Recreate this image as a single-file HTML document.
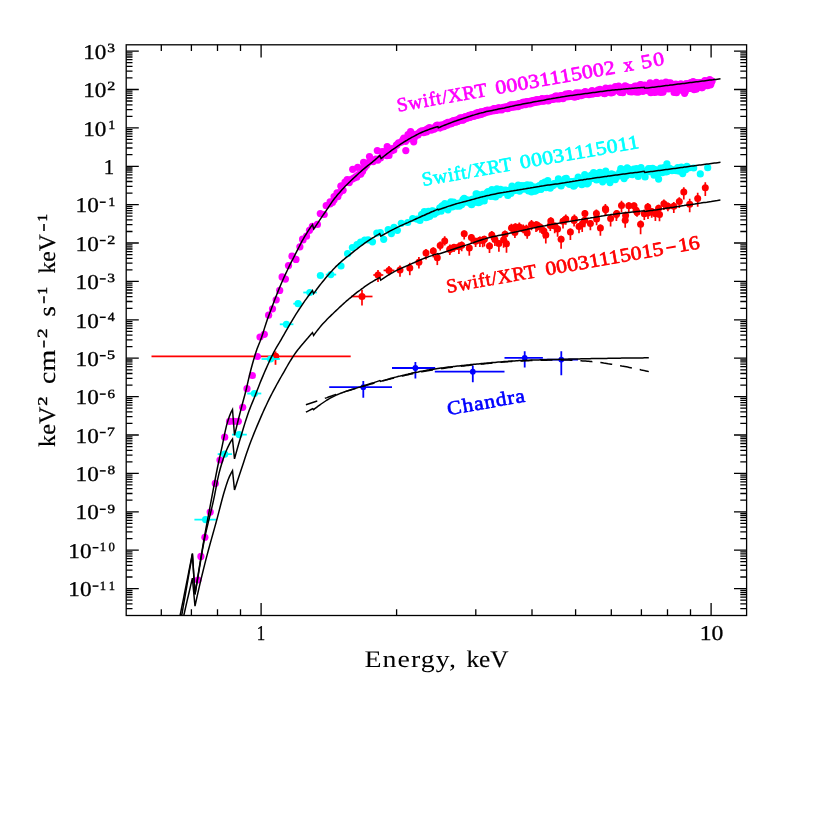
<!DOCTYPE html>
<html><head><meta charset="utf-8"><title>X-ray spectra</title>
<style>html,body{margin:0;padding:0;background:#fff}body{width:814px;height:814px;overflow:hidden;font-family:"Liberation Serif",serif}svg{display:block;will-change:transform}</style>
</head><body>
<svg width="814" height="814" viewBox="0 0 814 814" text-rendering="geometricPrecision">
<rect width="814" height="814" fill="#fff"/>
<defs><clipPath id="cp"><rect x="126.2" y="44.8" width="620.4" height="570.7"/></clipPath></defs>
<g clip-path="url(#cp)">
<g fill="#ff0000" stroke="#ff0000" stroke-width="1.7"><path d="M151.5 356.4H350.7" stroke-width="1.8"/><path d="M275.5 351.4V364.8" stroke-width="1.8"/><circle cx="275.7" cy="356.2" r="3.55" stroke="none"/><path d="M362.0 289.8V305.6"/><path d="M351.0 296.5H372.5"/><path d="M378.0 270.0V282.0"/><path d="M373.3 275.0H383.3"/><path d="M389.0 266.0V275.3"/><path d="M383.6 270.4H394.4"/><path d="M400.0 265.5V276.8"/><path d="M409.8 262.8V275.2"/><path d="M418.9 257.0V268.4"/><path d="M426.0 249.1V259.5"/><path d="M433.3 247.3V257.4"/><path d="M440.2 241.5V250.4"/><path d="M444.7 236.3V245.4"/><path d="M450.0 244.6V253.8"/><path d="M454.0 244.0V252.0"/><path d="M458.9 242.4V253.9"/><path d="M464.2 230.6V239.5"/><path d="M469.3 244.1V255.7"/><path d="M475.6 237.8V247.0"/><path d="M479.9 236.5V247.0"/><path d="M484.4 235.7V246.4"/><path d="M489.5 242.3V253.0"/><path d="M494.9 235.2V246.0"/><path d="M498.9 240.2V251.7"/><path d="M503.6 236.5V247.7"/><path d="M506.5 239.4V252.7"/><path d="M511.4 223.8V233.3"/><path d="M515.4 223.2V232.4"/><path d="M519.3 222.4V231.5"/><path d="M523.2 224.4V233.3"/><path d="M527.2 229.4V238.8"/><path d="M531.5 220.0V230.3"/><path d="M536.0 221.2V231.9"/><path d="M540.0 223.4V232.7"/><path d="M543.9 226.8V238.6"/><path d="M545.8 230.5V243.4"/><path d="M550.8 217.3V226.3"/><path d="M554.7 222.6V233.2"/><path d="M557.6 224.7V236.8"/><path d="M561.1 235.7V248.8"/><path d="M565.8 214.5V224.8"/><path d="M570.4 228.5V240.1"/><path d="M574.4 214.5V224.0"/><path d="M579.0 222.9V233.2"/><path d="M582.2 219.7V231.9"/><path d="M584.9 210.0V218.1"/><path d="M590.4 220.0V230.2"/><path d="M596.4 209.4V218.1"/><path d="M600.4 224.4V235.8"/><path d="M605.4 204.0V215.2"/><path d="M610.6 215.0V226.4"/><path d="M616.7 210.0V218.8"/><path d="M621.5 200.8V212.2"/><path d="M625.2 215.9V227.7"/><path d="M628.8 202.3V211.9"/><path d="M634.0 202.4V210.6"/><path d="M637.0 208.4V216.7"/><path d="M640.6 220.5V234.2"/><path d="M644.3 209.4V220.1"/><path d="M648.0 208.8V219.1"/><path d="M651.7 208.1V217.8"/><path d="M655.4 209.9V221.1"/><path d="M659.5 209.8V221.3"/><path d="M663.9 199.6V210.1"/><path d="M667.9 202.4V211.2"/><path d="M673.8 201.9V213.1"/><path d="M679.3 197.2V207.9"/><path d="M437.3 253.2V265.1"/><path d="M449.8 245.2V255.0"/><path d="M461.7 241.5V251.2"/><path d="M471.4 234.1V242.9"/><path d="M482.7 236.2V247.3"/><path d="M491.8 230.9V240.0"/><path d="M505.0 230.4V239.9"/><path d="M514.9 228.2V238.0"/><path d="M526.4 224.7V235.9"/><path d="M537.1 221.7V231.3"/><path d="M550.3 221.0V231.0"/><path d="M563.0 217.3V228.4"/><path d="M574.1 217.3V226.4"/><path d="M584.7 216.9V227.3"/><path d="M596.6 214.3V225.3"/><path d="M605.7 206.4V215.7"/><path d="M616.4 210.4V221.0"/><path d="M625.6 211.5V222.3"/><path d="M636.1 205.7V216.0"/><path d="M647.8 203.1V214.0"/><path d="M658.6 204.8V214.5"/><path d="M683.8 187.3V199.4"/><path d="M689.7 198.8V212.3"/><path d="M697.7 192.8V206.8"/><path d="M705.3 182.2V196.0"/></g><g fill="#ff0000"><circle cx="362.0" cy="296.5" r="3.5"/><circle cx="378.0" cy="275.0" r="3.5"/><circle cx="389.0" cy="270.4" r="3.5"/><circle cx="400.0" cy="270.0" r="3.5"/><circle cx="409.8" cy="268.0" r="3.5"/><circle cx="418.9" cy="262.3" r="3.5"/><circle cx="426.0" cy="253.0" r="3.5"/><circle cx="433.3" cy="251.1" r="3.5"/><circle cx="440.2" cy="245.6" r="3.5"/><circle cx="444.7" cy="240.9" r="3.5"/><circle cx="450.0" cy="249.1" r="3.5"/><circle cx="454.0" cy="247.2" r="3.5"/><circle cx="458.9" cy="246.8" r="3.5"/><circle cx="464.2" cy="233.8" r="3.5"/><circle cx="469.3" cy="248.1" r="3.5"/><circle cx="475.6" cy="241.3" r="3.5"/><circle cx="479.9" cy="240.3" r="3.5"/><circle cx="484.4" cy="239.3" r="3.5"/><circle cx="489.5" cy="246.0" r="3.5"/><circle cx="494.9" cy="239.5" r="3.5"/><circle cx="498.9" cy="243.6" r="3.5"/><circle cx="503.6" cy="239.8" r="3.5"/><circle cx="506.5" cy="243.7" r="3.5"/><circle cx="511.4" cy="228.0" r="3.5"/><circle cx="515.4" cy="227.0" r="3.5"/><circle cx="519.3" cy="227.0" r="3.5"/><circle cx="523.2" cy="229.0" r="3.5"/><circle cx="527.2" cy="232.9" r="3.5"/><circle cx="531.5" cy="224.6" r="3.5"/><circle cx="536.0" cy="225.0" r="3.5"/><circle cx="540.0" cy="227.0" r="3.5"/><circle cx="543.9" cy="230.9" r="3.5"/><circle cx="545.8" cy="234.9" r="3.5"/><circle cx="550.8" cy="221.1" r="3.5"/><circle cx="554.7" cy="226.0" r="3.5"/><circle cx="557.6" cy="229.0" r="3.5"/><circle cx="561.1" cy="239.2" r="3.5"/><circle cx="565.8" cy="218.9" r="3.5"/><circle cx="570.4" cy="231.9" r="3.5"/><circle cx="574.4" cy="219.1" r="3.5"/><circle cx="579.0" cy="226.4" r="3.5"/><circle cx="582.2" cy="224.0" r="3.5"/><circle cx="584.9" cy="213.4" r="3.5"/><circle cx="590.4" cy="223.6" r="3.5"/><circle cx="596.4" cy="213.4" r="3.5"/><circle cx="600.4" cy="228.1" r="3.5"/><circle cx="605.4" cy="208.8" r="3.5"/><circle cx="610.6" cy="218.4" r="3.5"/><circle cx="616.7" cy="213.4" r="3.5"/><circle cx="621.5" cy="205.6" r="3.5"/><circle cx="625.2" cy="220.3" r="3.5"/><circle cx="628.8" cy="205.8" r="3.5"/><circle cx="634.0" cy="205.8" r="3.5"/><circle cx="637.0" cy="212.2" r="3.5"/><circle cx="640.6" cy="224.3" r="3.5"/><circle cx="644.3" cy="213.7" r="3.5"/><circle cx="648.0" cy="213.0" r="3.5"/><circle cx="651.7" cy="211.5" r="3.5"/><circle cx="655.4" cy="213.7" r="3.5"/><circle cx="659.5" cy="214.5" r="3.5"/><circle cx="663.9" cy="203.7" r="3.5"/><circle cx="667.9" cy="206.3" r="3.5"/><circle cx="673.8" cy="206.3" r="3.5"/><circle cx="679.3" cy="201.6" r="3.5"/><circle cx="437.3" cy="257.8" r="3.5"/><circle cx="449.8" cy="249.4" r="3.5"/><circle cx="461.7" cy="245.2" r="3.5"/><circle cx="471.4" cy="237.5" r="3.5"/><circle cx="482.7" cy="240.6" r="3.5"/><circle cx="491.8" cy="235.1" r="3.5"/><circle cx="505.0" cy="234.3" r="3.5"/><circle cx="514.9" cy="232.4" r="3.5"/><circle cx="526.4" cy="229.0" r="3.5"/><circle cx="537.1" cy="225.1" r="3.5"/><circle cx="550.3" cy="225.5" r="3.5"/><circle cx="563.0" cy="221.2" r="3.5"/><circle cx="574.1" cy="220.5" r="3.5"/><circle cx="584.7" cy="220.3" r="3.5"/><circle cx="596.6" cy="219.0" r="3.5"/><circle cx="605.7" cy="209.8" r="3.5"/><circle cx="616.4" cy="214.5" r="3.5"/><circle cx="625.6" cy="215.5" r="3.5"/><circle cx="636.1" cy="210.2" r="3.5"/><circle cx="647.8" cy="206.9" r="3.5"/><circle cx="658.6" cy="208.3" r="3.5"/><circle cx="683.8" cy="192.0" r="3.5"/><circle cx="689.7" cy="204.2" r="3.5"/><circle cx="697.7" cy="198.4" r="3.5"/><circle cx="705.3" cy="187.8" r="3.5"/></g>
<g fill="#00ffff" stroke="#00ffff" stroke-width="1.8"><path d="M194.4 519.6H216.1"/><path d="M217.7 454.2H232.0"/><path d="M232.0 434.6H246.8"/><path d="M247.2 393.5H261.3"/><path d="M261.5 359.0H279.9"/><path d="M279.8 324.3H293.4"/><path d="M293.3 303.7H302.7"/><path d="M303.3 292.5H316.9"/><path d="M325.8 274.6H336.2"/></g><g fill="#00ffff"><circle cx="205.6" cy="519.6" r="3.6"/><circle cx="224.7" cy="454.2" r="3.6"/><circle cx="239.1" cy="434.6" r="3.6"/><circle cx="254.4" cy="393.5" r="3.6"/><circle cx="270.6" cy="359.0" r="3.6"/><circle cx="286.4" cy="324.3" r="3.6"/><circle cx="298.1" cy="303.7" r="3.6"/><circle cx="309.8" cy="292.5" r="3.6"/><circle cx="330.8" cy="274.6" r="3.6"/><circle cx="320.4" cy="275.5" r="3.6"/><circle cx="341.0" cy="266.0" r="3.6"/><circle cx="347.6" cy="253.7" r="3.6"/><circle cx="352.4" cy="247.6" r="3.6"/><circle cx="357.0" cy="244.6" r="3.6"/><circle cx="360.6" cy="242.1" r="3.6"/><circle cx="364.7" cy="240.0" r="3.6"/><circle cx="368.1" cy="239.9" r="3.6"/><circle cx="372.5" cy="241.8" r="3.6"/><circle cx="376.8" cy="233.1" r="3.6"/><circle cx="380.3" cy="232.5" r="3.6"/><circle cx="383.7" cy="239.3" r="3.6"/><circle cx="388.2" cy="229.7" r="3.6"/><circle cx="391.4" cy="233.6" r="3.6"/><circle cx="394.0" cy="227.4" r="3.6"/><circle cx="397.4" cy="230.3" r="3.6"/><circle cx="401.3" cy="223.3" r="3.6"/><circle cx="407.7" cy="222.5" r="3.6"/><circle cx="412.7" cy="218.5" r="3.6"/><circle cx="417.0" cy="219.2" r="3.6"/><circle cx="420.0" cy="220.4" r="3.6"/><circle cx="421.5" cy="214.7" r="3.6"/><circle cx="423.1" cy="214.4" r="3.6"/><circle cx="424.3" cy="211.5" r="3.6"/><circle cx="425.9" cy="217.6" r="3.6"/><circle cx="427.4" cy="217.2" r="3.6"/><circle cx="428.4" cy="211.3" r="3.6"/><circle cx="429.8" cy="216.3" r="3.6"/><circle cx="431.6" cy="211.1" r="3.6"/><circle cx="432.8" cy="210.9" r="3.6"/><circle cx="434.2" cy="214.2" r="3.6"/><circle cx="435.3" cy="212.7" r="3.6"/><circle cx="436.9" cy="212.2" r="3.6"/><circle cx="438.5" cy="210.7" r="3.6"/><circle cx="439.8" cy="207.8" r="3.6"/><circle cx="441.1" cy="211.2" r="3.6"/><circle cx="442.1" cy="205.9" r="3.6"/><circle cx="443.7" cy="205.7" r="3.6"/><circle cx="444.8" cy="203.5" r="3.6"/><circle cx="446.2" cy="205.5" r="3.6"/><circle cx="448.0" cy="209.8" r="3.6"/><circle cx="449.8" cy="203.7" r="3.6"/><circle cx="450.9" cy="201.9" r="3.6"/><circle cx="452.3" cy="206.9" r="3.6"/><circle cx="453.6" cy="202.2" r="3.6"/><circle cx="455.0" cy="205.3" r="3.6"/><circle cx="456.5" cy="206.1" r="3.6"/><circle cx="458.2" cy="204.9" r="3.6"/><circle cx="459.3" cy="206.2" r="3.6"/><circle cx="460.5" cy="203.3" r="3.6"/><circle cx="461.8" cy="204.6" r="3.6"/><circle cx="463.0" cy="199.6" r="3.6"/><circle cx="464.2" cy="198.4" r="3.6"/><circle cx="465.9" cy="202.1" r="3.6"/><circle cx="467.1" cy="199.9" r="3.6"/><circle cx="468.9" cy="200.6" r="3.6"/><circle cx="470.1" cy="203.2" r="3.6"/><circle cx="471.6" cy="204.7" r="3.6"/><circle cx="472.7" cy="199.2" r="3.6"/><circle cx="474.4" cy="202.4" r="3.6"/><circle cx="476.1" cy="193.8" r="3.6"/><circle cx="477.3" cy="194.2" r="3.6"/><circle cx="478.5" cy="202.7" r="3.6"/><circle cx="480.0" cy="201.8" r="3.6"/><circle cx="481.2" cy="200.9" r="3.6"/><circle cx="482.6" cy="194.3" r="3.6"/><circle cx="484.2" cy="201.0" r="3.6"/><circle cx="485.3" cy="197.1" r="3.6"/><circle cx="486.8" cy="192.8" r="3.6"/><circle cx="488.1" cy="191.7" r="3.6"/><circle cx="489.3" cy="192.6" r="3.6"/><circle cx="490.7" cy="196.5" r="3.6"/><circle cx="491.9" cy="189.5" r="3.6"/><circle cx="493.2" cy="196.2" r="3.6"/><circle cx="494.3" cy="192.1" r="3.6"/><circle cx="495.5" cy="197.0" r="3.6"/><circle cx="496.9" cy="188.9" r="3.6"/><circle cx="498.0" cy="192.3" r="3.6"/><circle cx="499.4" cy="194.6" r="3.6"/><circle cx="500.5" cy="189.3" r="3.6"/><circle cx="502.1" cy="191.7" r="3.6"/><circle cx="503.3" cy="190.4" r="3.6"/><circle cx="505.1" cy="190.1" r="3.6"/><circle cx="506.5" cy="190.4" r="3.6"/><circle cx="507.8" cy="195.4" r="3.6"/><circle cx="509.6" cy="190.0" r="3.6"/><circle cx="510.8" cy="193.5" r="3.6"/><circle cx="512.0" cy="186.0" r="3.6"/><circle cx="513.7" cy="190.0" r="3.6"/><circle cx="515.3" cy="189.5" r="3.6"/><circle cx="517.0" cy="189.8" r="3.6"/><circle cx="518.2" cy="185.2" r="3.6"/><circle cx="519.6" cy="191.1" r="3.6"/><circle cx="521.3" cy="185.5" r="3.6"/><circle cx="522.8" cy="188.0" r="3.6"/><circle cx="524.2" cy="185.6" r="3.6"/><circle cx="525.5" cy="189.0" r="3.6"/><circle cx="527.2" cy="184.8" r="3.6"/><circle cx="528.6" cy="191.0" r="3.6"/><circle cx="530.4" cy="185.1" r="3.6"/><circle cx="531.5" cy="191.8" r="3.6"/><circle cx="533.3" cy="187.2" r="3.6"/><circle cx="534.3" cy="191.2" r="3.6"/><circle cx="535.6" cy="190.8" r="3.6"/><circle cx="537.1" cy="189.8" r="3.6"/><circle cx="538.2" cy="189.3" r="3.6"/><circle cx="539.4" cy="185.5" r="3.6"/><circle cx="541.1" cy="189.3" r="3.6"/><circle cx="542.2" cy="183.3" r="3.6"/><circle cx="543.6" cy="185.9" r="3.6"/><circle cx="544.9" cy="182.0" r="3.6"/><circle cx="546.1" cy="187.6" r="3.6"/><circle cx="547.8" cy="180.7" r="3.6"/><circle cx="549.2" cy="187.4" r="3.6"/><circle cx="550.3" cy="188.1" r="3.6"/><circle cx="551.4" cy="185.6" r="3.6"/><circle cx="552.8" cy="185.7" r="3.6"/><circle cx="554.0" cy="183.5" r="3.6"/><circle cx="555.5" cy="183.3" r="3.6"/><circle cx="557.0" cy="183.3" r="3.6"/><circle cx="558.4" cy="178.9" r="3.6"/><circle cx="559.9" cy="183.4" r="3.6"/><circle cx="561.1" cy="185.9" r="3.6"/><circle cx="562.7" cy="182.6" r="3.6"/><circle cx="563.8" cy="182.6" r="3.6"/><circle cx="564.9" cy="178.9" r="3.6"/><circle cx="566.3" cy="178.3" r="3.6"/><circle cx="567.6" cy="182.4" r="3.6"/><circle cx="568.7" cy="183.6" r="3.6"/><circle cx="569.7" cy="184.4" r="3.6"/><circle cx="571.3" cy="181.8" r="3.6"/><circle cx="572.4" cy="181.6" r="3.6"/><circle cx="573.7" cy="186.2" r="3.6"/><circle cx="574.8" cy="185.1" r="3.6"/><circle cx="576.6" cy="183.4" r="3.6"/><circle cx="578.2" cy="177.1" r="3.6"/><circle cx="580.0" cy="180.2" r="3.6"/><circle cx="581.8" cy="184.7" r="3.6"/><circle cx="582.9" cy="183.1" r="3.6"/><circle cx="584.7" cy="174.5" r="3.6"/><circle cx="586.0" cy="182.3" r="3.6"/><circle cx="587.1" cy="183.8" r="3.6"/><circle cx="588.3" cy="182.7" r="3.6"/><circle cx="589.4" cy="178.8" r="3.6"/><circle cx="591.2" cy="175.0" r="3.6"/><circle cx="592.4" cy="178.4" r="3.6"/><circle cx="593.6" cy="172.5" r="3.6"/><circle cx="594.8" cy="173.8" r="3.6"/><circle cx="596.5" cy="180.0" r="3.6"/><circle cx="598.2" cy="173.3" r="3.6"/><circle cx="599.9" cy="172.4" r="3.6"/><circle cx="601.3" cy="178.8" r="3.6"/><circle cx="602.6" cy="181.8" r="3.6"/><circle cx="604.0" cy="177.8" r="3.6"/><circle cx="605.7" cy="171.2" r="3.6"/><circle cx="607.5" cy="178.0" r="3.6"/><circle cx="608.8" cy="180.1" r="3.6"/><circle cx="610.0" cy="182.6" r="3.6"/><circle cx="611.5" cy="173.8" r="3.6"/><circle cx="613.1" cy="174.7" r="3.6"/><circle cx="614.3" cy="178.7" r="3.6"/><circle cx="615.3" cy="179.6" r="3.6"/><circle cx="616.5" cy="177.0" r="3.6"/><circle cx="618.3" cy="176.0" r="3.6"/><circle cx="619.8" cy="172.2" r="3.6"/><circle cx="620.8" cy="168.5" r="3.6"/><circle cx="621.9" cy="175.9" r="3.6"/><circle cx="623.3" cy="174.4" r="3.6"/><circle cx="625.0" cy="169.5" r="3.6"/><circle cx="626.2" cy="175.8" r="3.6"/><circle cx="627.2" cy="167.8" r="3.6"/><circle cx="628.5" cy="169.0" r="3.6"/><circle cx="629.8" cy="170.3" r="3.6"/><circle cx="631.2" cy="174.4" r="3.6"/><circle cx="632.4" cy="174.6" r="3.6"/><circle cx="633.8" cy="169.1" r="3.6"/><circle cx="635.5" cy="170.2" r="3.6"/><circle cx="636.6" cy="168.5" r="3.6"/><circle cx="638.2" cy="176.5" r="3.6"/><circle cx="639.8" cy="171.5" r="3.6"/><circle cx="641.0" cy="167.5" r="3.6"/><circle cx="642.5" cy="172.7" r="3.6"/><circle cx="643.8" cy="173.4" r="3.6"/><circle cx="645.1" cy="176.9" r="3.6"/><circle cx="646.7" cy="170.5" r="3.6"/><circle cx="648.5" cy="168.7" r="3.6"/><circle cx="649.9" cy="171.6" r="3.6"/><circle cx="651.1" cy="168.7" r="3.6"/><circle cx="652.7" cy="168.3" r="3.6"/><circle cx="654.1" cy="175.2" r="3.6"/><circle cx="655.2" cy="169.6" r="3.6"/><circle cx="656.7" cy="171.6" r="3.6"/><circle cx="658.2" cy="173.5" r="3.6"/><circle cx="659.4" cy="170.0" r="3.6"/><circle cx="660.6" cy="168.2" r="3.6"/><circle cx="662.3" cy="172.6" r="3.6"/><circle cx="663.9" cy="167.6" r="3.6"/><circle cx="665.6" cy="171.9" r="3.6"/><circle cx="667.0" cy="171.7" r="3.6"/><circle cx="668.3" cy="168.4" r="3.6"/><circle cx="669.4" cy="168.3" r="3.6"/><circle cx="670.4" cy="168.8" r="3.6"/><circle cx="672.0" cy="170.7" r="3.6"/><circle cx="673.7" cy="170.5" r="3.6"/><circle cx="674.9" cy="169.5" r="3.6"/><circle cx="676.3" cy="170.6" r="3.6"/><circle cx="677.7" cy="167.5" r="3.6"/><circle cx="679.2" cy="171.1" r="3.6"/><circle cx="680.4" cy="170.5" r="3.6"/><circle cx="681.4" cy="167.1" r="3.6"/><circle cx="682.6" cy="169.4" r="3.6"/><circle cx="684.3" cy="169.2" r="3.6"/><circle cx="685.6" cy="169.7" r="3.6"/><circle cx="686.9" cy="166.3" r="3.6"/><circle cx="688.6" cy="168.0" r="3.6"/><circle cx="658.6" cy="179.1" r="3.6"/><circle cx="666.9" cy="163.9" r="3.6"/><circle cx="682.7" cy="173.6" r="3.6"/><circle cx="693.7" cy="168.0" r="3.6"/><circle cx="700.3" cy="173.9" r="3.6"/><circle cx="707.7" cy="167.7" r="3.6"/><circle cx="624.1" cy="178.6" r="3.6"/></g>
<path d="M436.0 127.1 L438.0 126.6 L440.0 127.1 L442.0 126.2 L444.0 125.4 L446.0 124.6 L448.0 123.8 L450.0 123.1 L452.0 122.3 L454.0 121.6 L456.0 120.9 L458.0 120.2 L460.0 119.5 L462.0 118.8 L464.0 118.1 L466.0 117.5 L468.0 116.9 L470.0 116.2 L472.0 115.6 L474.0 115.0 L476.0 114.4 L478.0 113.8 L480.0 113.2 L482.0 112.7 L484.0 112.2 L486.0 111.7 L488.0 111.3 L490.0 110.9 L492.0 110.4 L494.0 110.0 L496.0 109.6 L498.0 109.2 L500.0 108.8 L502.0 108.4 L504.0 107.9 L506.0 107.5 L508.0 107.1 L510.0 106.7 L512.0 106.2 L514.0 105.8 L516.0 105.4 L518.0 105.0 L520.0 104.6 L522.0 104.2 L524.0 103.8 L526.0 103.4 L528.0 103.0 L530.0 102.7 L532.0 102.3 L534.0 101.9 L536.0 101.5 L538.0 101.2 L540.0 100.8 L542.0 100.4 L544.0 100.1 L546.0 99.7 L548.0 99.3 L550.0 99.0 L552.0 98.6 L554.0 98.2 L556.0 97.9 L558.0 97.5 L560.0 97.2 L562.0 96.9 L564.0 96.6 L566.0 96.2 L568.0 96.0 L570.0 95.7 L572.0 95.4 L574.0 95.1 L576.0 94.8 L578.0 94.6 L580.0 94.3 L582.0 94.0 L584.0 93.8 L586.0 93.5 L588.0 93.3 L590.0 93.0 L592.0 92.7 L594.0 92.5 L596.0 92.2 L598.0 91.9 L600.0 91.7 L602.0 91.4 L604.0 91.1 L606.0 90.9 L608.0 90.6 L610.0 90.4 L612.0 90.2 L614.0 90.0 L616.0 89.8 L618.0 89.6 L620.0 89.4 L622.0 89.2 L624.0 89.0 L626.0 88.8 L628.0 88.6 L630.0 88.5 L632.0 88.3 L634.0 88.1 L636.0 88.0 L638.0 87.8 L640.0 87.7" fill="none" stroke="#ff00ff" stroke-width="8.6" stroke-linecap="round"/>
<path d="M440.0 209.3 L442.0 208.5 L444.0 207.8 L446.0 207.1 L448.0 206.4 L450.0 205.8 L452.0 205.1 L454.0 204.5 L456.0 203.9 L458.0 203.4 L460.0 202.8 L462.0 202.3 L464.0 201.8 L466.0 201.3 L468.0 200.7 L470.0 200.2 L472.0 199.6 L474.0 199.1 L476.0 198.5 L478.0 197.9 L480.0 197.4 L482.0 196.9 L484.0 196.4 L486.0 195.9 L488.0 195.5 L490.0 195.0 L492.0 194.6 L494.0 194.2 L496.0 193.8 L498.0 193.4 L500.0 193.0 L502.0 192.6 L504.0 192.3 L506.0 191.9 L508.0 191.6 L510.0 191.3 L512.0 191.0 L514.0 190.7 L516.0 190.4 L518.0 190.0 L520.0 189.7 L522.0 189.4 L524.0 189.0 L526.0 188.7 L528.0 188.3 L530.0 188.0 L532.0 187.6 L534.0 187.3 L536.0 186.9 L538.0 186.6 L540.0 186.3 L542.0 186.0 L544.0 185.7 L546.0 185.4 L548.0 185.1 L550.0 184.8 L552.0 184.6 L554.0 184.3 L556.0 184.0 L558.0 183.7 L560.0 183.4 L562.0 183.2 L564.0 182.9 L566.0 182.5 L568.0 182.2 L570.0 181.9 L572.0 181.6 L574.0 181.3 L576.0 180.9 L578.0 180.6 L580.0 180.3 L582.0 180.0 L584.0 179.6 L586.0 179.3 L588.0 179.0 L590.0 178.7 L592.0 178.4 L594.0 178.1 L596.0 177.8 L598.0 177.5 L600.0 177.3 L602.0 177.0 L604.0 176.7 L606.0 176.4 L608.0 176.2 L610.0 175.9 L612.0 175.6 L614.0 175.4 L616.0 175.1 L618.0 174.8 L620.0 174.5 L622.0 174.3 L624.0 174.0 L626.0 173.7 L628.0 173.5 L630.0 173.2 L632.0 173.0 L634.0 172.7 L636.0 172.4 L638.0 172.2 L640.0 171.9" fill="none" stroke="#00ffff" stroke-width="7.0" stroke-linecap="round"/>
<g fill="#ff00ff"><circle cx="198.0" cy="580.0" r="3.6"/><circle cx="200.9" cy="556.4" r="3.6"/><circle cx="204.9" cy="537.3" r="3.6"/><circle cx="210.2" cy="512.1" r="3.6"/><circle cx="215.3" cy="483.4" r="3.6"/><circle cx="220.0" cy="460.0" r="3.6"/><circle cx="224.7" cy="437.2" r="3.6"/><circle cx="229.6" cy="421.3" r="3.6"/><circle cx="234.0" cy="421.3" r="3.6"/><circle cx="238.3" cy="421.3" r="3.6"/><circle cx="242.7" cy="407.3" r="3.6"/><circle cx="247.0" cy="388.7" r="3.6"/><circle cx="252.4" cy="375.5" r="3.6"/><circle cx="257.4" cy="356.5" r="3.6"/><circle cx="260.0" cy="337.0" r="3.6"/><circle cx="264.3" cy="334.3" r="3.6"/><circle cx="268.6" cy="315.2" r="3.6"/><circle cx="272.5" cy="308.8" r="3.6"/><circle cx="276.2" cy="299.8" r="3.6"/><circle cx="279.7" cy="290.4" r="3.6"/><circle cx="282.1" cy="276.9" r="3.6"/><circle cx="285.4" cy="279.1" r="3.6"/><circle cx="288.5" cy="265.6" r="3.6"/><circle cx="292.0" cy="256.2" r="3.6"/><circle cx="296.0" cy="259.4" r="3.6"/><circle cx="299.9" cy="246.8" r="3.6"/><circle cx="303.0" cy="240.0" r="3.6"/><circle cx="302.6" cy="239.1" r="3.6"/><circle cx="306.5" cy="236.2" r="3.6"/><circle cx="309.5" cy="230.3" r="3.6"/><circle cx="312.4" cy="226.3" r="3.6"/><circle cx="317.4" cy="224.4" r="3.6"/><circle cx="320.3" cy="213.6" r="3.6"/><circle cx="324.2" cy="214.5" r="3.6"/><circle cx="326.2" cy="205.7" r="3.6"/><circle cx="330.1" cy="201.8" r="3.6"/><circle cx="334.1" cy="199.8" r="3.6"/><circle cx="337.0" cy="192.9" r="3.6"/><circle cx="340.9" cy="186.0" r="3.6"/><circle cx="345.9" cy="182.1" r="3.6"/><circle cx="349.8" cy="180.1" r="3.6"/><circle cx="352.7" cy="169.3" r="3.6"/><circle cx="357.7" cy="167.4" r="3.6"/><circle cx="356.7" cy="177.2" r="3.6"/><circle cx="362.6" cy="171.3" r="3.6"/><circle cx="363.6" cy="162.4" r="3.6"/><circle cx="369.5" cy="156.5" r="3.6"/><circle cx="372.4" cy="160.5" r="3.6"/><circle cx="377.3" cy="150.6" r="3.6"/><circle cx="382.2" cy="151.6" r="3.6"/><circle cx="387.2" cy="146.7" r="3.6"/><circle cx="392.1" cy="148.7" r="3.6"/><circle cx="397.0" cy="144.7" r="3.6"/><circle cx="402.9" cy="139.8" r="3.6"/><circle cx="405.8" cy="150.6" r="3.6"/><circle cx="408.8" cy="138.8" r="3.6"/><circle cx="413.7" cy="141.8" r="3.6"/><circle cx="417.6" cy="133.9" r="3.6"/><circle cx="330.0" cy="204.0" r="3.6"/><circle cx="332.4" cy="202.4" r="3.6"/><circle cx="334.1" cy="196.7" r="3.6"/><circle cx="335.7" cy="196.3" r="3.6"/><circle cx="337.9" cy="196.6" r="3.6"/><circle cx="339.6" cy="192.7" r="3.6"/><circle cx="341.3" cy="186.2" r="3.6"/><circle cx="343.1" cy="190.3" r="3.6"/><circle cx="345.0" cy="182.2" r="3.6"/><circle cx="347.2" cy="179.7" r="3.6"/><circle cx="349.3" cy="182.6" r="3.6"/><circle cx="352.0" cy="179.2" r="3.6"/><circle cx="353.9" cy="178.2" r="3.6"/><circle cx="355.9" cy="176.6" r="3.6"/><circle cx="358.5" cy="174.6" r="3.6"/><circle cx="360.8" cy="174.1" r="3.6"/><circle cx="362.9" cy="168.6" r="3.6"/><circle cx="364.5" cy="167.7" r="3.6"/><circle cx="366.4" cy="165.4" r="3.6"/><circle cx="368.4" cy="162.6" r="3.6"/><circle cx="370.7" cy="161.1" r="3.6"/><circle cx="373.2" cy="161.6" r="3.6"/><circle cx="375.7" cy="159.1" r="3.6"/><circle cx="377.9" cy="160.1" r="3.6"/><circle cx="380.5" cy="157.9" r="3.6"/><circle cx="383.3" cy="154.5" r="3.6"/><circle cx="385.1" cy="151.5" r="3.6"/><circle cx="386.8" cy="155.7" r="3.6"/><circle cx="389.0" cy="155.5" r="3.6"/><circle cx="391.5" cy="151.0" r="3.6"/><circle cx="393.8" cy="150.0" r="3.6"/><circle cx="396.3" cy="145.4" r="3.6"/><circle cx="398.6" cy="142.9" r="3.6"/><circle cx="401.2" cy="142.2" r="3.6"/><circle cx="403.9" cy="138.2" r="3.6"/><circle cx="405.6" cy="141.3" r="3.6"/><circle cx="408.0" cy="134.7" r="3.6"/><circle cx="410.6" cy="131.7" r="3.6"/><circle cx="412.6" cy="134.0" r="3.6"/><circle cx="414.2" cy="138.2" r="3.6"/><circle cx="416.3" cy="135.3" r="3.6"/><circle cx="418.0" cy="134.9" r="3.6"/><circle cx="420.0" cy="131.8" r="3.6"/><circle cx="420.7" cy="132.4" r="3.6"/><circle cx="421.8" cy="130.8" r="3.6"/><circle cx="422.6" cy="132.2" r="3.6"/><circle cx="423.6" cy="132.7" r="3.6"/><circle cx="424.7" cy="130.3" r="3.6"/><circle cx="425.5" cy="130.3" r="3.6"/><circle cx="426.5" cy="132.0" r="3.6"/><circle cx="427.2" cy="129.0" r="3.6"/><circle cx="427.9" cy="128.9" r="3.6"/><circle cx="428.7" cy="129.8" r="3.6"/><circle cx="429.5" cy="127.5" r="3.6"/><circle cx="430.3" cy="128.5" r="3.6"/><circle cx="431.2" cy="130.2" r="3.6"/><circle cx="432.1" cy="128.4" r="3.6"/><circle cx="433.0" cy="128.6" r="3.6"/><circle cx="433.6" cy="129.2" r="3.6"/><circle cx="434.6" cy="128.8" r="3.6"/><circle cx="435.6" cy="126.8" r="3.6"/><circle cx="436.4" cy="125.6" r="3.6"/><circle cx="437.4" cy="125.2" r="3.6"/><circle cx="438.0" cy="125.6" r="3.6"/><circle cx="438.7" cy="127.1" r="3.6"/><circle cx="439.3" cy="125.7" r="3.6"/><circle cx="440.0" cy="125.8" r="3.6"/><circle cx="440.8" cy="125.2" r="3.6"/><circle cx="441.8" cy="126.7" r="3.6"/><circle cx="442.5" cy="125.2" r="3.6"/><circle cx="443.2" cy="125.3" r="3.6"/><circle cx="443.9" cy="126.6" r="3.6"/><circle cx="445.0" cy="124.9" r="3.6"/><circle cx="445.8" cy="123.3" r="3.6"/><circle cx="446.5" cy="123.9" r="3.6"/><circle cx="447.2" cy="125.2" r="3.6"/><circle cx="447.9" cy="122.3" r="3.6"/><circle cx="449.0" cy="123.6" r="3.6"/><circle cx="449.6" cy="123.4" r="3.6"/><circle cx="450.3" cy="123.1" r="3.6"/><circle cx="451.4" cy="123.7" r="3.6"/><circle cx="452.3" cy="121.4" r="3.6"/><circle cx="453.1" cy="120.9" r="3.6"/><circle cx="454.1" cy="121.7" r="3.6"/><circle cx="455.1" cy="120.7" r="3.6"/><circle cx="455.8" cy="121.9" r="3.6"/><circle cx="456.9" cy="121.7" r="3.6"/><circle cx="457.9" cy="121.2" r="3.6"/><circle cx="458.8" cy="119.0" r="3.6"/><circle cx="459.7" cy="119.1" r="3.6"/><circle cx="460.3" cy="117.9" r="3.6"/><circle cx="461.0" cy="118.4" r="3.6"/><circle cx="462.0" cy="120.2" r="3.6"/><circle cx="462.8" cy="119.9" r="3.6"/><circle cx="463.9" cy="119.6" r="3.6"/><circle cx="464.7" cy="117.1" r="3.6"/><circle cx="465.4" cy="116.8" r="3.6"/><circle cx="466.1" cy="117.8" r="3.6"/><circle cx="467.2" cy="118.2" r="3.6"/><circle cx="468.0" cy="117.3" r="3.6"/><circle cx="469.0" cy="115.3" r="3.6"/><circle cx="469.9" cy="117.5" r="3.6"/><circle cx="470.9" cy="116.7" r="3.6"/><circle cx="471.8" cy="114.7" r="3.6"/><circle cx="472.8" cy="114.9" r="3.6"/><circle cx="473.8" cy="116.5" r="3.6"/><circle cx="474.6" cy="114.5" r="3.6"/><circle cx="475.6" cy="115.2" r="3.6"/><circle cx="476.3" cy="113.1" r="3.6"/><circle cx="477.0" cy="115.3" r="3.6"/><circle cx="478.0" cy="112.7" r="3.6"/><circle cx="479.0" cy="115.0" r="3.6"/><circle cx="479.9" cy="112.8" r="3.6"/><circle cx="480.8" cy="111.9" r="3.6"/><circle cx="481.4" cy="114.3" r="3.6"/><circle cx="482.3" cy="112.7" r="3.6"/><circle cx="483.4" cy="112.1" r="3.6"/><circle cx="484.4" cy="113.1" r="3.6"/><circle cx="485.1" cy="111.1" r="3.6"/><circle cx="485.9" cy="110.9" r="3.6"/><circle cx="486.8" cy="110.8" r="3.6"/><circle cx="487.6" cy="110.2" r="3.6"/><circle cx="488.7" cy="110.7" r="3.6"/><circle cx="489.5" cy="111.2" r="3.6"/><circle cx="490.5" cy="110.5" r="3.6"/><circle cx="491.6" cy="110.5" r="3.6"/><circle cx="492.5" cy="110.4" r="3.6"/><circle cx="493.1" cy="110.0" r="3.6"/><circle cx="493.8" cy="108.5" r="3.6"/><circle cx="494.8" cy="108.8" r="3.6"/><circle cx="495.6" cy="110.4" r="3.6"/><circle cx="496.5" cy="109.0" r="3.6"/><circle cx="497.3" cy="109.5" r="3.6"/><circle cx="498.3" cy="107.8" r="3.6"/><circle cx="499.2" cy="108.1" r="3.6"/><circle cx="499.9" cy="109.7" r="3.6"/><circle cx="500.8" cy="108.8" r="3.6"/><circle cx="501.8" cy="109.8" r="3.6"/><circle cx="502.6" cy="108.6" r="3.6"/><circle cx="503.5" cy="108.1" r="3.6"/><circle cx="504.4" cy="107.7" r="3.6"/><circle cx="505.3" cy="107.6" r="3.6"/><circle cx="506.3" cy="108.1" r="3.6"/><circle cx="507.4" cy="108.7" r="3.6"/><circle cx="508.1" cy="107.3" r="3.6"/><circle cx="509.2" cy="108.0" r="3.6"/><circle cx="509.8" cy="105.4" r="3.6"/><circle cx="510.7" cy="105.1" r="3.6"/><circle cx="511.4" cy="104.9" r="3.6"/><circle cx="512.3" cy="107.2" r="3.6"/><circle cx="513.4" cy="104.8" r="3.6"/><circle cx="514.3" cy="106.3" r="3.6"/><circle cx="515.0" cy="107.0" r="3.6"/><circle cx="516.1" cy="104.4" r="3.6"/><circle cx="517.2" cy="104.8" r="3.6"/><circle cx="518.0" cy="106.7" r="3.6"/><circle cx="519.0" cy="103.6" r="3.6"/><circle cx="519.8" cy="104.7" r="3.6"/><circle cx="520.6" cy="103.4" r="3.6"/><circle cx="521.4" cy="105.1" r="3.6"/><circle cx="522.0" cy="104.4" r="3.6"/><circle cx="522.8" cy="102.3" r="3.6"/><circle cx="523.6" cy="104.3" r="3.6"/><circle cx="524.4" cy="102.2" r="3.6"/><circle cx="525.5" cy="104.6" r="3.6"/><circle cx="526.6" cy="101.9" r="3.6"/><circle cx="527.3" cy="101.5" r="3.6"/><circle cx="528.3" cy="102.1" r="3.6"/><circle cx="529.0" cy="102.6" r="3.6"/><circle cx="530.0" cy="103.8" r="3.6"/><circle cx="530.8" cy="101.2" r="3.6"/><circle cx="531.8" cy="102.6" r="3.6"/><circle cx="532.8" cy="100.6" r="3.6"/><circle cx="533.4" cy="102.7" r="3.6"/><circle cx="534.2" cy="100.3" r="3.6"/><circle cx="535.3" cy="102.2" r="3.6"/><circle cx="536.3" cy="99.9" r="3.6"/><circle cx="537.3" cy="99.7" r="3.6"/><circle cx="538.3" cy="100.9" r="3.6"/><circle cx="539.1" cy="101.2" r="3.6"/><circle cx="540.2" cy="99.9" r="3.6"/><circle cx="540.8" cy="100.7" r="3.6"/><circle cx="541.6" cy="99.0" r="3.6"/><circle cx="542.2" cy="98.7" r="3.6"/><circle cx="542.9" cy="99.5" r="3.6"/><circle cx="543.7" cy="101.1" r="3.6"/><circle cx="544.4" cy="100.0" r="3.6"/><circle cx="545.1" cy="99.3" r="3.6"/><circle cx="545.7" cy="98.8" r="3.6"/><circle cx="546.3" cy="100.5" r="3.6"/><circle cx="547.2" cy="98.3" r="3.6"/><circle cx="548.1" cy="101.0" r="3.6"/><circle cx="548.7" cy="100.4" r="3.6"/><circle cx="549.5" cy="99.0" r="3.6"/><circle cx="550.5" cy="98.4" r="3.6"/><circle cx="551.4" cy="99.4" r="3.6"/><circle cx="552.5" cy="97.9" r="3.6"/><circle cx="553.5" cy="99.1" r="3.6"/><circle cx="554.4" cy="97.8" r="3.6"/><circle cx="555.2" cy="96.3" r="3.6"/><circle cx="555.9" cy="96.2" r="3.6"/><circle cx="556.8" cy="96.8" r="3.6"/><circle cx="557.5" cy="96.0" r="3.6"/><circle cx="558.5" cy="98.9" r="3.6"/><circle cx="559.5" cy="96.4" r="3.6"/><circle cx="560.2" cy="96.3" r="3.6"/><circle cx="561.0" cy="95.6" r="3.6"/><circle cx="561.8" cy="95.9" r="3.6"/><circle cx="562.9" cy="98.7" r="3.6"/><circle cx="563.8" cy="95.5" r="3.6"/><circle cx="564.9" cy="95.6" r="3.6"/><circle cx="565.7" cy="94.2" r="3.6"/><circle cx="566.5" cy="96.1" r="3.6"/><circle cx="567.3" cy="94.8" r="3.6"/><circle cx="568.2" cy="93.8" r="3.6"/><circle cx="568.9" cy="94.1" r="3.6"/><circle cx="569.7" cy="93.7" r="3.6"/><circle cx="570.3" cy="94.8" r="3.6"/><circle cx="571.0" cy="95.9" r="3.6"/><circle cx="571.9" cy="96.5" r="3.6"/><circle cx="572.8" cy="96.2" r="3.6"/><circle cx="573.8" cy="94.6" r="3.6"/><circle cx="574.6" cy="97.2" r="3.6"/><circle cx="575.3" cy="95.9" r="3.6"/><circle cx="576.2" cy="92.8" r="3.6"/><circle cx="577.2" cy="96.4" r="3.6"/><circle cx="578.1" cy="95.6" r="3.6"/><circle cx="579.1" cy="92.8" r="3.6"/><circle cx="580.0" cy="94.3" r="3.6"/><circle cx="581.0" cy="95.6" r="3.6"/><circle cx="582.0" cy="94.4" r="3.6"/><circle cx="583.1" cy="94.8" r="3.6"/><circle cx="584.0" cy="92.5" r="3.6"/><circle cx="584.6" cy="92.0" r="3.6"/><circle cx="585.4" cy="91.7" r="3.6"/><circle cx="586.4" cy="93.7" r="3.6"/><circle cx="587.4" cy="94.0" r="3.6"/><circle cx="588.3" cy="93.2" r="3.6"/><circle cx="588.9" cy="94.6" r="3.6"/><circle cx="589.9" cy="93.0" r="3.6"/><circle cx="590.7" cy="93.7" r="3.6"/><circle cx="591.4" cy="94.0" r="3.6"/><circle cx="592.1" cy="90.6" r="3.6"/><circle cx="592.8" cy="93.8" r="3.6"/><circle cx="593.5" cy="93.7" r="3.6"/><circle cx="594.6" cy="92.4" r="3.6"/><circle cx="595.4" cy="92.2" r="3.6"/><circle cx="596.4" cy="93.5" r="3.6"/><circle cx="597.3" cy="92.8" r="3.6"/><circle cx="597.9" cy="90.1" r="3.6"/><circle cx="598.6" cy="93.1" r="3.6"/><circle cx="599.4" cy="92.1" r="3.6"/><circle cx="600.0" cy="89.4" r="3.6"/><circle cx="600.7" cy="92.5" r="3.6"/><circle cx="601.7" cy="92.4" r="3.6"/><circle cx="602.4" cy="91.4" r="3.6"/><circle cx="603.2" cy="91.1" r="3.6"/><circle cx="603.9" cy="93.3" r="3.6"/><circle cx="604.6" cy="93.7" r="3.6"/><circle cx="605.7" cy="88.2" r="3.6"/><circle cx="606.5" cy="92.7" r="3.6"/><circle cx="607.6" cy="90.4" r="3.6"/><circle cx="608.3" cy="88.9" r="3.6"/><circle cx="609.4" cy="88.8" r="3.6"/><circle cx="610.3" cy="88.2" r="3.6"/><circle cx="611.1" cy="93.0" r="3.6"/><circle cx="611.8" cy="92.2" r="3.6"/><circle cx="612.7" cy="92.5" r="3.6"/><circle cx="613.6" cy="88.3" r="3.6"/><circle cx="614.7" cy="89.8" r="3.6"/><circle cx="615.3" cy="86.7" r="3.6"/><circle cx="616.1" cy="89.4" r="3.6"/><circle cx="616.9" cy="87.3" r="3.6"/><circle cx="617.7" cy="88.4" r="3.6"/><circle cx="618.7" cy="86.2" r="3.6"/><circle cx="619.6" cy="91.7" r="3.6"/><circle cx="620.3" cy="92.3" r="3.6"/><circle cx="621.3" cy="92.1" r="3.6"/><circle cx="622.0" cy="88.3" r="3.6"/><circle cx="622.8" cy="92.7" r="3.6"/><circle cx="623.7" cy="88.0" r="3.6"/><circle cx="624.5" cy="87.3" r="3.6"/><circle cx="625.1" cy="85.9" r="3.6"/><circle cx="626.2" cy="87.2" r="3.6"/><circle cx="627.2" cy="86.8" r="3.6"/><circle cx="628.0" cy="88.7" r="3.6"/><circle cx="628.6" cy="87.6" r="3.6"/><circle cx="629.7" cy="91.6" r="3.6"/><circle cx="630.7" cy="89.5" r="3.6"/><circle cx="631.8" cy="92.0" r="3.6"/><circle cx="632.7" cy="90.1" r="3.6"/><circle cx="633.3" cy="90.2" r="3.6"/><circle cx="634.1" cy="90.3" r="3.6"/><circle cx="635.0" cy="86.2" r="3.6"/><circle cx="635.7" cy="91.8" r="3.6"/><circle cx="636.3" cy="87.7" r="3.6"/><circle cx="637.1" cy="86.1" r="3.6"/><circle cx="638.1" cy="92.2" r="3.6"/><circle cx="638.8" cy="89.2" r="3.6"/><circle cx="639.5" cy="88.3" r="3.6"/><circle cx="640.3" cy="84.5" r="3.6"/><circle cx="641.0" cy="84.8" r="3.6"/><circle cx="642.1" cy="87.5" r="3.6"/><circle cx="642.8" cy="91.5" r="3.6"/><circle cx="643.9" cy="86.9" r="3.6"/><circle cx="644.6" cy="85.2" r="3.6"/><circle cx="645.2" cy="86.6" r="3.6"/><circle cx="645.8" cy="85.5" r="3.6"/><circle cx="646.6" cy="88.8" r="3.6"/><circle cx="647.6" cy="90.6" r="3.6"/><circle cx="648.4" cy="86.9" r="3.6"/><circle cx="649.3" cy="86.4" r="3.6"/><circle cx="650.1" cy="82.9" r="3.6"/><circle cx="650.8" cy="92.7" r="3.6"/><circle cx="651.5" cy="87.6" r="3.6"/><circle cx="652.4" cy="91.5" r="3.6"/><circle cx="653.1" cy="85.1" r="3.6"/><circle cx="653.8" cy="86.5" r="3.6"/><circle cx="654.6" cy="92.5" r="3.6"/><circle cx="655.7" cy="91.6" r="3.6"/><circle cx="656.3" cy="82.4" r="3.6"/><circle cx="657.2" cy="91.8" r="3.6"/><circle cx="658.1" cy="88.4" r="3.6"/><circle cx="658.7" cy="86.2" r="3.6"/><circle cx="659.7" cy="90.9" r="3.6"/><circle cx="660.7" cy="92.5" r="3.6"/><circle cx="661.5" cy="83.1" r="3.6"/><circle cx="662.1" cy="87.6" r="3.6"/><circle cx="663.1" cy="92.1" r="3.6"/><circle cx="664.1" cy="88.9" r="3.6"/><circle cx="665.0" cy="86.8" r="3.6"/><circle cx="665.9" cy="82.2" r="3.6"/><circle cx="666.9" cy="84.3" r="3.6"/><circle cx="668.0" cy="88.8" r="3.6"/><circle cx="668.7" cy="83.1" r="3.6"/><circle cx="669.4" cy="88.7" r="3.6"/><circle cx="670.4" cy="82.9" r="3.6"/><circle cx="671.0" cy="87.4" r="3.6"/><circle cx="671.9" cy="85.9" r="3.6"/><circle cx="672.6" cy="88.3" r="3.6"/><circle cx="673.2" cy="84.9" r="3.6"/><circle cx="674.1" cy="92.5" r="3.6"/><circle cx="675.0" cy="91.7" r="3.6"/><circle cx="675.8" cy="84.1" r="3.6"/><circle cx="676.5" cy="92.7" r="3.6"/><circle cx="677.5" cy="84.9" r="3.6"/><circle cx="678.1" cy="87.2" r="3.6"/><circle cx="679.0" cy="86.2" r="3.6"/><circle cx="679.8" cy="89.3" r="3.6"/><circle cx="680.8" cy="83.8" r="3.6"/><circle cx="681.5" cy="85.2" r="3.6"/><circle cx="682.3" cy="89.5" r="3.6"/><circle cx="683.0" cy="91.0" r="3.6"/><circle cx="683.9" cy="87.3" r="3.6"/><circle cx="684.6" cy="93.3" r="3.6"/><circle cx="685.4" cy="91.3" r="3.6"/><circle cx="686.1" cy="83.6" r="3.6"/><circle cx="687.1" cy="84.4" r="3.6"/><circle cx="688.2" cy="86.7" r="3.6"/><circle cx="688.9" cy="83.5" r="3.6"/><circle cx="689.7" cy="88.4" r="3.6"/><circle cx="690.7" cy="82.5" r="3.6"/><circle cx="691.5" cy="83.2" r="3.6"/><circle cx="692.6" cy="82.4" r="3.6"/><circle cx="693.2" cy="81.6" r="3.6"/><circle cx="694.0" cy="89.6" r="3.6"/><circle cx="695.1" cy="87.8" r="3.6"/><circle cx="696.2" cy="89.2" r="3.6"/><circle cx="696.9" cy="82.7" r="3.6"/><circle cx="698.0" cy="87.1" r="3.6"/><circle cx="698.6" cy="86.4" r="3.6"/><circle cx="699.4" cy="84.0" r="3.6"/><circle cx="700.2" cy="82.5" r="3.6"/><circle cx="700.8" cy="83.1" r="3.6"/><circle cx="701.6" cy="87.7" r="3.6"/><circle cx="702.2" cy="87.6" r="3.6"/><circle cx="702.9" cy="83.2" r="3.6"/><circle cx="703.9" cy="86.1" r="3.6"/><circle cx="704.8" cy="80.7" r="3.6"/><circle cx="705.6" cy="82.7" r="3.6"/><circle cx="706.7" cy="81.2" r="3.6"/><circle cx="707.4" cy="85.7" r="3.6"/><circle cx="708.1" cy="82.4" r="3.6"/><circle cx="709.1" cy="84.4" r="3.6"/><circle cx="709.7" cy="79.6" r="3.6"/><circle cx="710.3" cy="85.0" r="3.6"/><circle cx="711.0" cy="83.7" r="3.6"/><circle cx="712.1" cy="81.0" r="3.6"/></g>
<g fill="#0000ff" stroke="#0000ff" stroke-width="1.8"><path d="M329.2 387.2H392.0M363.3 380.9V397.7"/><circle cx="363.3" cy="387.2" r="2.9" stroke="none"/><path d="M392.0 368.0H435.2M415.4 362.0V378.6"/><circle cx="415.4" cy="368.0" r="2.9" stroke="none"/><path d="M434.8 371.7H504.5M472.8 365.5V382.3"/><circle cx="472.8" cy="371.7" r="2.9" stroke="none"/><path d="M504.5 357.8H542.9M524.7 351.3V367.6"/><circle cx="524.7" cy="357.8" r="2.9" stroke="none"/><path d="M542.9 359.6H578.0M561.3 351.3V375.3"/><circle cx="561.3" cy="359.6" r="2.9" stroke="none"/></g>
<g fill="none" stroke="#000" stroke-width="1.5" stroke-linejoin="miter" stroke-linecap="butt">
<path d="M180.1 615.5 L181.6 607.9 L183.2 600.2 L184.7 592.5 L186.2 584.8 L187.8 577.0 L189.3 569.1 L190.9 561.2 L192.4 553.3 L195.0 594.5 L196.5 584.9 L198.0 575.5 L199.5 566.2 L201.0 557.1 L202.5 548.1 L204.0 539.4 L205.5 531.0 L207.0 522.9 L208.5 514.8 L210.0 506.9 L211.5 498.9 L213.0 490.9 L214.5 482.9 L216.0 475.0 L217.5 467.5 L219.0 460.4 L220.5 453.6 L222.0 446.8 L223.5 439.7 L225.0 432.2 L226.5 425.6 L228.0 420.6 L229.5 416.1 L231.0 412.3 L232.5 409.5 L234.5 435.3 L236.0 429.1 L237.5 423.0 L239.0 417.0 L240.5 411.1 L242.0 405.3 L243.5 399.8 L245.0 394.2 L246.5 388.2 L248.0 381.7 L249.5 375.2 L251.0 369.3 L252.5 363.8 L254.0 358.5 L255.5 353.6 L257.0 349.1 L258.5 345.2 L260.0 341.6 L261.5 337.5 L263.0 332.9 L264.5 328.1 L266.0 323.5 L267.5 319.1 L269.0 314.9 L270.5 310.9 L272.0 306.9 L273.5 303.0 L275.0 299.1 L276.5 295.2 L278.0 291.4 L279.5 287.7 L281.0 284.2 L282.5 280.7 L284.0 277.4 L285.5 274.1 L287.0 271.0 L288.5 267.8 L290.0 264.7 L291.5 261.7 L293.0 258.8 L294.5 255.8 L296.0 252.9 L297.5 249.9 L299.0 247.0 L300.5 244.1 L302.0 241.2 L303.5 238.6 L305.0 236.0 L306.5 233.6 L308.0 231.2 L309.5 228.9 L311.0 226.7 L312.5 224.6 L313.7 229.0 L315.2 226.8 L316.7 224.6 L318.2 222.3 L319.7 220.1 L321.2 217.9 L322.7 215.7 L324.2 213.5 L325.7 211.3 L327.2 209.1 L328.7 206.8 L330.2 204.6 L331.7 202.4 L333.2 200.3 L334.7 198.3 L336.2 196.5 L337.7 194.6 L339.2 192.9 L340.7 191.2 L342.2 189.5 L343.7 187.9 L345.2 186.3 L346.8 184.7 L348.3 183.2 L349.8 181.8 L351.3 180.3 L352.8 178.9 L354.3 177.5 L355.8 176.1 L357.3 174.7 L358.8 173.3 L360.3 172.0 L361.8 170.6 L363.3 169.3 L364.8 168.1 L366.3 166.9 L367.8 165.7 L369.3 164.5 L370.8 163.3 L372.3 162.1 L373.8 160.8 L375.3 159.6 L376.8 158.3 L378.3 156.9 L379.8 155.6 L381.1 158.5 L382.6 157.3 L384.2 156.0 L385.7 154.8 L387.2 153.7 L388.8 152.5 L390.3 151.4 L391.8 150.2 L393.4 149.1 L394.9 148.1 L396.4 147.0 L398.0 146.0 L399.5 144.9 L401.0 143.9 L402.6 142.9 L404.1 141.9 L405.6 141.0 L407.2 140.1 L408.7 139.2 L410.2 138.3 L411.7 137.4 L413.3 136.6 L414.8 135.8 L416.3 135.0 L417.9 134.2 L419.4 133.4 L420.9 132.7 L422.5 132.0 L424.0 131.4 L425.5 130.8 L427.1 130.2 L428.6 129.6 L430.1 129.0 L431.7 128.5 L433.2 128.0 L434.7 127.5 L436.3 127.0 L437.8 126.6 L438.3 127.8 L439.8 127.2 L441.3 126.5 L442.8 125.9 L444.3 125.3 L445.8 124.7 L447.3 124.1 L448.8 123.5 L450.3 123.0 L451.8 122.4 L453.3 121.8 L454.8 121.3 L456.3 120.8 L457.8 120.2 L459.3 119.7 L460.8 119.2 L462.3 118.7 L463.8 118.2 L465.4 117.7 L466.9 117.2 L468.4 116.7 L469.9 116.3 L471.4 115.8 L472.9 115.3 L474.4 114.9 L475.9 114.4 L477.4 114.0 L478.9 113.5 L480.4 113.1 L481.9 112.7 L483.4 112.4 L484.9 112.0 L486.4 111.6 L487.9 111.3 L489.4 111.0 L490.9 110.7 L492.4 110.4 L493.9 110.1 L495.4 109.7 L496.9 109.4 L498.4 109.1 L499.9 108.8 L501.4 108.5 L502.9 108.2 L504.4 107.9 L505.9 107.5 L507.4 107.2 L508.9 106.9 L510.4 106.6 L511.9 106.3 L513.4 105.9 L514.9 105.6 L516.5 105.3 L518.0 105.0 L519.5 104.7 L521.0 104.4 L522.5 104.1 L524.0 103.8 L525.5 103.5 L527.0 103.2 L528.5 102.9 L530.0 102.7 L531.5 102.4 L533.0 102.1 L534.5 101.8 L536.0 101.5 L537.5 101.3 L539.0 101.0 L540.5 100.7 L542.0 100.4 L543.5 100.2 L545.0 99.9 L546.5 99.6 L548.0 99.3 L549.5 99.0 L551.0 98.8 L552.5 98.5 L554.0 98.2 L555.5 98.0 L557.0 97.7 L558.5 97.4 L560.0 97.2 L561.5 96.9 L563.0 96.7 L564.5 96.5 L566.0 96.2 L567.6 96.0 L569.1 95.8 L570.6 95.6 L572.1 95.4 L573.6 95.2 L575.1 95.0 L576.6 94.8 L578.1 94.6 L579.6 94.4 L581.1 94.2 L582.6 94.0 L584.1 93.8 L585.6 93.6 L587.1 93.4 L588.6 93.2 L590.1 93.0 L591.6 92.8 L593.1 92.6 L594.6 92.4 L596.1 92.2 L597.6 92.0 L599.1 91.8 L600.6 91.6 L602.1 91.4 L603.6 91.2 L605.1 91.0 L606.6 90.8 L608.1 90.6 L609.6 90.5 L611.1 90.3 L612.6 90.1 L614.1 90.0 L615.6 89.8 L617.1 89.7 L618.7 89.5 L620.2 89.4 L621.7 89.2 L623.2 89.1 L624.7 88.9 L626.2 88.8 L627.7 88.7 L629.2 88.5 L630.7 88.4 L632.2 88.3 L633.7 88.2 L635.2 88.0 L636.7 87.9 L638.2 87.8 L639.7 87.7 L641.2 87.6 L642.7 87.5 L644.2 87.4 L644.8 88.3 L646.3 88.1 L647.8 87.9 L649.3 87.7 L650.9 87.5 L652.4 87.3 L653.9 87.2 L655.4 87.0 L656.9 86.8 L658.4 86.6 L659.9 86.4 L661.5 86.2 L663.0 86.0 L664.5 85.8 L666.0 85.6 L667.5 85.4 L669.0 85.3 L670.5 85.1 L672.1 84.9 L673.6 84.7 L675.1 84.5 L676.6 84.3 L678.1 84.1 L679.6 83.9 L681.1 83.7 L682.6 83.5 L684.2 83.4 L685.7 83.2 L687.2 83.0 L688.7 82.8 L690.2 82.6 L691.7 82.4 L693.2 82.2 L694.8 82.0 L696.3 81.8 L697.8 81.7 L699.3 81.5 L700.8 81.3 L702.3 81.1 L703.8 80.9 L705.4 80.7 L706.9 80.5 L708.4 80.3 L709.9 80.1 L711.4 79.9 L712.9 79.8 L714.4 79.6 L716.0 79.4 L717.5 79.2 L719.0 79.0 L720.5 78.8"/>
<path d="M181.7 615.5 L183.2 606.7 L184.8 597.9 L186.3 589.1 L187.8 580.3 L189.3 571.6 L190.9 562.9 L192.4 554.2 L195.0 594.3 L196.5 585.5 L198.0 576.7 L199.5 567.7 L201.0 558.6 L202.5 549.7 L204.0 541.5 L205.5 534.2 L207.0 527.6 L208.5 521.3 L210.0 515.3 L211.5 509.1 L213.0 502.7 L214.5 495.7 L216.0 487.9 L217.5 480.2 L219.0 473.4 L220.5 467.8 L222.0 462.7 L223.5 458.1 L225.0 453.9 L226.5 450.2 L228.0 446.9 L229.5 443.9 L231.0 441.2 L232.5 439.0 L234.5 458.9 L236.0 453.4 L237.5 448.0 L239.0 442.7 L240.5 437.7 L242.0 432.7 L243.5 427.7 L245.0 422.9 L246.5 418.3 L248.0 413.8 L249.5 409.6 L251.0 405.8 L252.5 402.1 L254.0 398.5 L255.5 394.7 L257.0 390.8 L258.5 387.0 L260.0 383.1 L261.5 379.4 L263.0 375.9 L264.5 372.3 L266.0 368.9 L267.5 365.5 L269.0 362.2 L270.5 358.9 L272.0 355.8 L273.5 352.8 L275.0 350.0 L276.5 347.3 L278.0 344.8 L279.5 342.4 L281.0 339.8 L282.5 337.2 L284.0 334.6 L285.5 331.9 L287.0 329.3 L288.5 326.7 L290.0 324.1 L291.5 321.6 L293.0 319.1 L294.5 316.7 L296.0 314.2 L297.5 311.9 L299.0 309.5 L300.5 307.3 L302.0 305.1 L303.5 302.9 L305.0 300.7 L306.5 298.6 L308.0 296.5 L309.5 294.5 L311.0 292.5 L312.5 290.6 L313.6 293.7 L315.1 291.6 L316.6 289.5 L318.1 287.5 L319.6 285.5 L321.1 283.6 L322.6 281.7 L324.1 279.9 L325.6 278.1 L327.1 276.3 L328.6 274.5 L330.1 272.8 L331.6 271.2 L333.1 269.5 L334.6 268.0 L336.1 266.4 L337.6 265.0 L339.1 263.6 L340.6 262.2 L342.1 260.9 L343.6 259.7 L345.1 258.4 L346.6 257.2 L348.2 256.0 L349.7 254.8 L351.2 253.6 L352.7 252.4 L354.2 251.2 L355.7 250.0 L357.2 248.8 L358.7 247.7 L360.2 246.5 L361.7 245.4 L363.2 244.3 L364.7 243.2 L366.2 242.2 L367.7 241.2 L369.2 240.2 L370.7 239.2 L372.2 238.2 L373.7 237.3 L375.2 236.3 L376.7 235.4 L378.2 234.6 L379.7 233.7 L380.8 236.2 L382.3 235.3 L383.8 234.5 L385.3 233.6 L386.8 232.8 L388.3 232.0 L389.8 231.2 L391.3 230.4 L392.8 229.6 L394.3 228.9 L395.8 228.1 L397.3 227.4 L398.8 226.7 L400.3 225.9 L401.8 225.3 L403.3 224.6 L404.8 223.9 L406.3 223.2 L407.8 222.6 L409.3 221.9 L410.8 221.2 L412.3 220.6 L413.8 219.9 L415.3 219.2 L416.8 218.5 L418.3 217.9 L419.8 217.2 L421.3 216.5 L422.8 215.8 L424.3 215.2 L425.8 214.5 L427.3 213.8 L428.8 213.2 L430.3 212.5 L431.8 211.8 L433.3 211.2 L434.8 210.5 L436.3 209.9 L437.8 209.2 L438.3 209.9 L439.8 209.3 L441.3 208.8 L442.8 208.2 L444.3 207.7 L445.8 207.2 L447.3 206.6 L448.8 206.1 L450.3 205.7 L451.8 205.2 L453.3 204.7 L454.8 204.3 L456.3 203.8 L457.8 203.4 L459.3 203.0 L460.8 202.6 L462.3 202.2 L463.8 201.8 L465.4 201.4 L466.9 201.0 L468.4 200.6 L469.9 200.2 L471.4 199.8 L472.9 199.4 L474.4 199.0 L475.9 198.5 L477.4 198.1 L478.9 197.7 L480.4 197.3 L481.9 196.9 L483.4 196.6 L484.9 196.2 L486.4 195.8 L487.9 195.5 L489.4 195.2 L490.9 194.8 L492.4 194.5 L493.9 194.2 L495.4 193.9 L496.9 193.6 L498.4 193.3 L499.9 193.0 L501.4 192.7 L502.9 192.5 L504.4 192.2 L505.9 192.0 L507.4 191.7 L508.9 191.5 L510.4 191.2 L511.9 191.0 L513.4 190.8 L514.9 190.5 L516.5 190.3 L518.0 190.0 L519.5 189.8 L521.0 189.5 L522.5 189.3 L524.0 189.0 L525.5 188.8 L527.0 188.5 L528.5 188.2 L530.0 188.0 L531.5 187.7 L533.0 187.5 L534.5 187.2 L536.0 186.9 L537.5 186.7 L539.0 186.5 L540.5 186.2 L542.0 186.0 L543.5 185.8 L545.0 185.5 L546.5 185.3 L548.0 185.1 L549.5 184.9 L551.0 184.7 L552.5 184.5 L554.0 184.3 L555.5 184.1 L557.0 183.9 L558.5 183.7 L560.0 183.4 L561.5 183.2 L563.0 183.0 L564.5 182.8 L566.0 182.5 L567.6 182.3 L569.1 182.1 L570.6 181.8 L572.1 181.6 L573.6 181.3 L575.1 181.1 L576.6 180.8 L578.1 180.6 L579.6 180.3 L581.1 180.1 L582.6 179.9 L584.1 179.6 L585.6 179.4 L587.1 179.1 L588.6 178.9 L590.1 178.7 L591.6 178.5 L593.1 178.2 L594.6 178.0 L596.1 177.8 L597.6 177.6 L599.1 177.4 L600.6 177.2 L602.1 177.0 L603.6 176.8 L605.1 176.6 L606.6 176.4 L608.1 176.1 L609.6 175.9 L611.1 175.7 L612.6 175.5 L614.1 175.3 L615.6 175.1 L617.1 174.9 L618.7 174.7 L620.2 174.5 L621.7 174.3 L623.2 174.1 L624.7 173.9 L626.2 173.7 L627.7 173.5 L629.2 173.3 L630.7 173.1 L632.2 172.9 L633.7 172.7 L635.2 172.5 L636.7 172.4 L638.2 172.2 L639.7 172.0 L641.2 171.8 L642.7 171.6 L644.2 171.4 L644.8 172.4 L646.3 172.2 L647.8 172.0 L649.3 171.8 L650.9 171.6 L652.4 171.4 L653.9 171.2 L655.4 171.0 L656.9 170.8 L658.4 170.6 L659.9 170.4 L661.5 170.2 L663.0 170.0 L664.5 169.8 L666.0 169.6 L667.5 169.4 L669.0 169.2 L670.5 169.0 L672.1 168.8 L673.6 168.6 L675.1 168.4 L676.6 168.2 L678.1 168.0 L679.6 167.8 L681.1 167.6 L682.6 167.4 L684.2 167.1 L685.7 166.9 L687.2 166.7 L688.7 166.5 L690.2 166.3 L691.7 166.1 L693.2 165.9 L694.8 165.7 L696.3 165.5 L697.8 165.3 L699.3 165.1 L700.8 164.9 L702.3 164.7 L703.8 164.5 L705.4 164.3 L706.9 164.1 L708.4 163.9 L709.9 163.7 L711.4 163.5 L712.9 163.3 L714.4 163.1 L716.0 162.9 L717.5 162.7 L719.0 162.5 L720.5 162.3"/>
<path d="M183.8 615.5 L185.5 607.9 L187.2 600.3 L189.0 592.8 L190.7 585.4 L192.4 578.1 L195.0 606.2 L196.5 599.2 L198.0 592.4 L199.5 585.8 L201.0 579.4 L202.5 573.2 L204.0 567.1 L205.5 561.1 L207.0 555.4 L208.5 549.8 L210.0 544.3 L211.5 538.9 L213.0 533.5 L214.5 528.1 L216.0 522.7 L217.5 517.1 L219.0 511.4 L220.5 505.5 L222.0 499.8 L223.5 494.3 L225.0 489.2 L226.5 484.4 L228.0 480.0 L229.5 476.4 L231.0 473.3 L232.5 470.7 L234.5 489.9 L236.0 485.4 L237.5 480.8 L239.0 476.3 L240.5 471.8 L242.0 467.3 L243.5 462.7 L245.0 458.1 L246.5 453.6 L248.0 449.2 L249.5 445.0 L251.0 441.0 L252.5 437.2 L254.0 433.4 L255.5 429.7 L257.0 426.1 L258.5 422.6 L260.0 419.1 L261.5 415.6 L263.0 412.2 L264.5 408.9 L266.0 405.7 L267.5 402.5 L269.0 399.4 L270.5 396.4 L272.0 393.5 L273.5 390.6 L275.0 387.8 L276.5 385.0 L278.0 382.3 L279.5 379.6 L281.0 377.0 L282.5 374.4 L284.0 371.8 L285.5 369.1 L287.0 366.5 L288.5 363.9 L290.0 361.4 L291.5 359.0 L293.0 356.6 L294.5 354.4 L296.0 352.3 L297.5 350.3 L299.0 348.4 L300.5 346.6 L302.0 344.8 L303.5 343.1 L305.0 341.3 L306.5 339.5 L308.0 337.8 L309.5 336.0 L311.0 334.3 L312.5 332.6 L313.6 335.4 L315.1 333.4 L316.6 331.4 L318.1 329.5 L319.6 327.6 L321.1 325.8 L322.6 324.1 L324.1 322.5 L325.6 320.9 L327.1 319.3 L328.6 317.8 L330.1 316.4 L331.6 314.9 L333.1 313.5 L334.6 312.0 L336.1 310.6 L337.6 309.2 L339.1 307.8 L340.6 306.4 L342.1 305.0 L343.6 303.6 L345.1 302.3 L346.6 300.9 L348.2 299.6 L349.7 298.3 L351.2 297.1 L352.7 295.8 L354.2 294.6 L355.7 293.4 L357.2 292.2 L358.7 291.1 L360.2 290.0 L361.7 288.8 L363.2 287.8 L364.7 286.7 L366.2 285.7 L367.7 284.7 L369.2 283.7 L370.7 282.7 L372.2 281.8 L373.7 280.9 L375.2 280.0 L376.7 279.2 L378.2 278.3 L379.7 277.5 L380.7 280.1 L382.2 279.1 L383.7 278.1 L385.2 277.1 L386.7 276.1 L388.2 275.2 L389.7 274.3 L391.2 273.4 L392.7 272.6 L394.2 271.7 L395.7 270.9 L397.2 270.2 L398.7 269.4 L400.2 268.7 L401.7 268.1 L403.2 267.4 L404.7 266.8 L406.2 266.1 L407.7 265.5 L409.2 264.8 L410.8 264.1 L412.3 263.4 L413.8 262.8 L415.3 262.1 L416.8 261.4 L418.3 260.7 L419.8 260.1 L421.3 259.5 L422.8 258.9 L424.3 258.3 L425.8 257.7 L427.3 257.2 L428.8 256.6 L430.3 256.1 L431.8 255.6 L433.3 255.0 L434.8 254.5 L436.3 254.1 L437.8 253.6 L438.2 254.2 L439.7 253.7 L441.2 253.2 L442.7 252.7 L444.2 252.2 L445.7 251.7 L447.2 251.2 L448.7 250.7 L450.2 250.3 L451.7 249.8 L453.2 249.3 L454.7 248.8 L456.2 248.3 L457.7 247.8 L459.3 247.3 L460.8 246.8 L462.3 246.3 L463.8 245.8 L465.3 245.4 L466.8 244.9 L468.3 244.4 L469.8 243.9 L471.3 243.4 L472.8 242.9 L474.3 242.3 L475.8 241.8 L477.3 241.3 L478.8 240.8 L480.3 240.3 L481.8 239.8 L483.3 239.3 L484.8 238.9 L486.3 238.4 L487.8 238.0 L489.3 237.6 L490.8 237.2 L492.3 236.8 L493.8 236.5 L495.3 236.2 L496.8 235.9 L498.3 235.6 L499.8 235.3 L501.4 235.0 L502.9 234.7 L504.4 234.4 L505.9 234.1 L507.4 233.8 L508.9 233.4 L510.4 233.1 L511.9 232.8 L513.4 232.4 L514.9 232.1 L516.4 231.8 L517.9 231.4 L519.4 231.1 L520.9 230.7 L522.4 230.4 L523.9 230.1 L525.4 229.7 L526.9 229.4 L528.4 229.0 L529.9 228.7 L531.4 228.4 L532.9 228.1 L534.4 227.7 L535.9 227.4 L537.4 227.1 L538.9 226.8 L540.4 226.5 L542.0 226.2 L543.5 225.9 L545.0 225.7 L546.5 225.4 L548.0 225.1 L549.5 224.8 L551.0 224.6 L552.5 224.3 L554.0 224.1 L555.5 223.8 L557.0 223.5 L558.5 223.3 L560.0 223.0 L561.5 222.8 L563.0 222.5 L564.5 222.3 L566.0 222.0 L567.5 221.7 L569.0 221.5 L570.5 221.2 L572.0 221.0 L573.5 220.7 L575.0 220.5 L576.5 220.2 L578.0 220.0 L579.5 219.7 L581.0 219.5 L582.6 219.2 L584.1 219.0 L585.6 218.7 L587.1 218.5 L588.6 218.2 L590.1 218.0 L591.6 217.7 L593.1 217.5 L594.6 217.2 L596.1 217.0 L597.6 216.8 L599.1 216.5 L600.6 216.3 L602.1 216.0 L603.6 215.8 L605.1 215.5 L606.6 215.3 L608.1 215.1 L609.6 214.9 L611.1 214.6 L612.6 214.4 L614.1 214.2 L615.6 214.0 L617.1 213.8 L618.6 213.6 L620.1 213.5 L621.6 213.3 L623.1 213.1 L624.7 212.9 L626.2 212.7 L627.7 212.5 L629.2 212.4 L630.7 212.2 L632.2 212.0 L633.7 211.9 L635.2 211.7 L636.7 211.5 L638.2 211.4 L639.7 211.2 L641.2 211.1 L642.7 210.9 L644.2 210.8 L644.8 211.5 L646.3 211.3 L647.8 211.0 L649.3 210.8 L650.8 210.6 L652.4 210.4 L653.9 210.1 L655.4 209.9 L656.9 209.7 L658.4 209.4 L659.9 209.2 L661.4 209.0 L662.9 208.8 L664.5 208.5 L666.0 208.3 L667.5 208.1 L669.0 207.9 L670.5 207.6 L672.0 207.4 L673.5 207.2 L675.0 206.9 L676.6 206.7 L678.1 206.5 L679.6 206.3 L681.1 206.0 L682.6 205.8 L684.1 205.6 L685.6 205.3 L687.1 205.1 L688.6 204.9 L690.2 204.7 L691.7 204.4 L693.2 204.2 L694.7 204.0 L696.2 203.7 L697.7 203.5 L699.2 203.3 L700.7 203.1 L702.3 202.8 L703.8 202.6 L705.3 202.4 L706.8 202.2 L708.3 201.9 L709.8 201.7 L711.3 201.5 L712.8 201.2 L714.4 201.0 L715.9 200.8 L717.4 200.6 L718.9 200.3 L720.4 200.1"/>
<path d="M305.9 412.2 L307.6 411.3 L309.4 410.4 L311.1 409.5 L312.8 408.6 L313.6 409.6 L315.1 408.4 L316.6 407.3 L318.1 406.2 L319.6 405.1 L321.1 404.0 L322.6 403.0 L324.1 402.0 L325.6 401.0 L327.1 400.0 L328.6 399.1 L330.2 398.2 L331.7 397.4 L333.2 396.6 L334.7 395.8 L336.2 395.1 L337.7 394.5 L339.2 393.9 L340.7 393.3 L342.2 392.7 L343.7 392.1 L345.2 391.6 L346.7 391.1 L348.2 390.6 L349.7 390.2 L351.2 389.7 L352.7 389.3 L354.2 388.8 L355.7 388.4 L357.2 387.9 L358.7 387.4 L360.2 387.0 L361.7 386.5 L363.2 386.0 L364.8 385.5 L366.3 385.0 L367.8 384.5 L369.3 384.0 L370.8 383.5 L372.3 383.0 L373.8 382.6 L375.3 382.1 L376.8 381.6 L378.3 381.1 L379.8 380.6 L380.6 381.4 L382.1 380.9 L383.6 380.5 L385.1 380.1 L386.6 379.6 L388.1 379.2 L389.6 378.8 L391.1 378.3 L392.7 377.9 L394.2 377.5 L395.7 377.1 L397.2 376.7 L398.7 376.3 L400.2 376.0 L401.7 375.6 L403.2 375.2 L404.7 374.9 L406.2 374.5 L407.7 374.2 L409.2 373.8 L410.7 373.5 L412.2 373.1 L413.7 372.8 L415.3 372.5 L416.8 372.2 L418.3 371.9 L419.8 371.5 L421.3 371.2 L422.8 371.0 L424.3 370.7 L425.8 370.4 L427.3 370.1 L428.8 369.9 L430.3 369.6 L431.8 369.4 L433.3 369.2 L434.8 369.0 L436.3 368.7 L437.9 368.5 L439.4 368.3 L440.9 368.1 L442.4 367.9 L443.9 367.7 L445.4 367.5 L446.9 367.3 L448.4 367.1 L449.9 366.9 L451.4 366.7 L452.9 366.6 L454.4 366.4 L455.9 366.2 L457.4 366.0 L459.0 365.9 L460.5 365.7 L462.0 365.5 L463.5 365.4 L465.0 365.2 L466.5 365.1 L468.0 364.9 L469.5 364.8 L471.0 364.6 L472.5 364.5 L474.0 364.3 L475.5 364.2 L477.0 364.0 L478.5 363.9 L480.0 363.7 L481.6 363.6 L483.1 363.5 L484.6 363.3 L486.1 363.2 L487.6 363.0 L489.1 362.9 L490.6 362.8 L492.1 362.6 L493.6 362.5 L495.1 362.4 L496.6 362.2 L498.1 362.1 L499.6 362.0 L501.1 361.9 L502.6 361.7 L504.2 361.6 L505.7 361.5 L507.2 361.4 L508.7 361.3 L510.2 361.2 L511.7 361.1 L513.2 361.0 L514.7 360.9 L516.2 360.8 L517.7 360.7 L519.2 360.6 L520.7 360.6 L522.2 360.5 L523.7 360.4 L525.2 360.4 L526.8 360.3 L528.3 360.2 L529.8 360.2 L531.3 360.1 L532.8 360.1 L534.3 360.0 L535.8 360.0 L537.3 359.9 L538.8 359.9 L540.3 359.8 L541.8 359.8 L543.3 359.8 L544.8 359.7 L546.3 359.7 L547.8 359.6 L549.4 359.6 L550.9 359.6 L552.4 359.5 L553.9 359.5 L555.4 359.4 L556.9 359.4 L558.4 359.4 L559.9 359.3 L561.4 359.3 L562.9 359.3 L564.4 359.2 L565.9 359.2 L567.4 359.2 L568.9 359.1 L570.4 359.1 L572.0 359.0 L573.5 359.0 L575.0 359.0 L576.5 358.9 L578.0 358.9 L579.5 358.9 L581.0 358.8 L582.5 358.8 L584.0 358.8 L585.5 358.7 L587.0 358.7 L588.5 358.7 L590.0 358.7 L591.5 358.6 L593.1 358.6 L594.6 358.6 L596.1 358.5 L597.6 358.5 L599.1 358.5 L600.6 358.5 L602.1 358.4 L603.6 358.4 L605.1 358.4 L606.6 358.4 L608.1 358.3 L609.6 358.3 L611.1 358.3 L612.6 358.3 L614.1 358.2 L615.7 358.2 L617.2 358.2 L618.7 358.2 L620.2 358.2 L621.7 358.1 L623.2 358.1 L624.7 358.1 L626.2 358.1 L627.7 358.0 L629.2 358.0 L630.7 358.0 L632.2 358.0 L633.7 358.0 L635.2 357.9 L636.7 357.9 L638.3 357.9 L639.8 357.9 L641.3 357.9 L642.8 357.9 L644.3 357.8 L645.8 357.8 L647.3 357.8 L648.8 357.8"/>
<path d="M305.9 404.7 L307.4 404.2 L308.9 403.7 L310.4 403.2 L311.9 402.7 L313.4 402.2 L314.9 401.7 L316.4 401.2 L317.9 400.7 L319.4 400.2 L320.9 399.7 L322.4 399.2 L323.9 398.6 L325.5 398.1 L327.0 397.6 L328.5 397.0 L330.0 396.5 L331.5 396.0 L333.0 395.4 L334.5 394.9 L336.0 394.4 L337.5 393.9 L339.0 393.5 L340.5 393.0 L342.0 392.5 L343.5 392.0 L345.0 391.6 L346.5 391.1 L348.0 390.7 L349.5 390.2 L351.0 389.8 L352.5 389.3 L354.0 388.9 L355.5 388.4 L357.0 388.0 L358.5 387.6 L360.0 387.1 L361.5 386.7 L363.0 386.3 L364.6 385.8 L366.1 385.4 L367.6 385.0 L369.1 384.6 L370.6 384.1 L372.1 383.7 L373.6 383.3 L375.1 382.9 L376.6 382.5 L378.1 382.1 L379.6 381.7 L381.1 381.3 L382.6 380.9 L384.1 380.5 L385.6 380.1 L387.1 379.8 L388.6 379.4 L390.1 379.0 L391.6 378.6 L393.1 378.2 L394.6 377.8 L396.1 377.5 L397.6 377.1 L399.1 376.7 L400.6 376.4 L402.2 376.0 L403.7 375.7 L405.2 375.3 L406.7 375.0 L408.2 374.7 L409.7 374.3 L411.2 374.0 L412.7 373.7 L414.2 373.4 L415.7 373.0 L417.2 372.7 L418.7 372.4 L420.2 372.1 L421.7 371.8 L423.2 371.5 L424.7 371.2 L426.2 370.9 L427.7 370.7 L429.2 370.4 L430.7 370.2 L432.2 370.0 L433.7 369.7 L435.2 369.5 L436.7 369.3 L438.2 369.1 L439.8 368.8 L441.3 368.6 L442.8 368.4 L444.3 368.2 L445.8 368.0 L447.3 367.8 L448.8 367.6 L450.3 367.4 L451.8 367.3 L453.3 367.1 L454.8 366.9 L456.3 366.7 L457.8 366.5 L459.3 366.4 L460.8 366.2 L462.3 366.0 L463.8 365.9 L465.3 365.7 L466.8 365.5 L468.3 365.4 L469.8 365.2 L471.3 365.1 L472.8 364.9 L474.3 364.8 L475.8 364.6 L477.3 364.5 L478.9 364.3 L480.4 364.2 L481.9 364.0 L483.4 363.9 L484.9 363.7 L486.4 363.6 L487.9 363.4 L489.4 363.3 L490.9 363.2 L492.4 363.0 L493.9 362.9 L495.4 362.7 L496.9 362.6 L498.4 362.5 L499.9 362.3 L501.4 362.2 L502.9 362.1 L504.4 362.0 L505.9 361.8 L507.4 361.7 L508.9 361.6 L510.4 361.5 L511.9 361.4 L513.4 361.3 L514.9 361.2 L516.5 361.1 L518.0 361.1 L519.5 361.0 L521.0 360.9 L522.5 360.9 L524.0 360.8 L525.5 360.8 L527.0 360.7 L528.5 360.7 L530.0 360.6 L531.5 360.6 L533.0 360.5 L534.5 360.5 L536.0 360.4 L537.5 360.4 L539.0 360.3 L540.5 360.3 L542.0 360.3 L543.5 360.2 L545.0 360.2 L546.5 360.2 L548.0 360.1 L549.5 360.1 L551.0 360.1 L552.5 360.1 L554.1 360.0 L555.6 360.0 L557.1 360.0 L558.6 360.0 L560.1 360.0 L561.6 360.0 L563.1 360.0 L564.6 360.0 L566.1 360.1 L567.6 360.1 L569.1 360.1 L570.6 360.2 L572.1 360.3 L573.6 360.3 L575.1 360.4 L576.6 360.5 L578.1 360.6 L579.6 360.7 L581.1 360.8 L582.6 360.9 L584.1 361.0 L585.6 361.1 L587.1 361.2 L588.6 361.3 L590.1 361.5 L591.6 361.6 L593.2 361.7 L594.7 361.8 L596.2 362.0 L597.7 362.2 L599.2 362.3 L600.7 362.5 L602.2 362.7 L603.7 363.0 L605.2 363.2 L606.7 363.4 L608.2 363.7 L609.7 363.9 L611.2 364.2 L612.7 364.4 L614.2 364.7 L615.7 364.9 L617.2 365.2 L618.7 365.5 L620.2 365.7 L621.7 366.0 L623.2 366.2 L624.7 366.5 L626.2 366.8 L627.7 367.1 L629.2 367.4 L630.8 367.7 L632.3 368.0 L633.8 368.3 L635.3 368.6 L636.8 368.9 L638.3 369.2 L639.8 369.5 L641.3 369.9 L642.8 370.2 L644.3 370.6 L645.8 370.9 L647.3 371.2 L648.8 371.6" stroke-dasharray="12 8"/>
</g>
</g>
<g stroke="#000" stroke-width="1.3" fill="none" stroke-linecap="butt"><rect x="126.2" y="44.8" width="620.4" height="570.7"/><path d="M161.3 615.5v-6.3M161.3 44.8v6.3"/><path d="M191.4 615.5v-6.3M191.4 44.8v6.3"/><path d="M217.5 615.5v-6.3M217.5 44.8v6.3"/><path d="M240.5 615.5v-6.3M240.5 44.8v6.3"/><path d="M261.1 615.5v-12.6M261.1 44.8v12.6"/><path d="M396.6 615.5v-6.3M396.6 44.8v6.3"/><path d="M475.8 615.5v-6.3M475.8 44.8v6.3"/><path d="M532.0 615.5v-6.3M532.0 44.8v6.3"/><path d="M575.6 615.5v-6.3M575.6 44.8v6.3"/><path d="M611.3 615.5v-6.3M611.3 44.8v6.3"/><path d="M641.4 615.5v-6.3M641.4 44.8v6.3"/><path d="M667.5 615.5v-6.3M667.5 44.8v6.3"/><path d="M690.5 615.5v-6.3M690.5 44.8v6.3"/><path d="M711.1 615.5v-12.6M711.1 44.8v12.6"/><path d="M126.2 608.6h6.3M746.6 608.6h-6.3"/><path d="M126.2 603.8h6.3M746.6 603.8h-6.3"/><path d="M126.2 600.1h6.3M746.6 600.1h-6.3"/><path d="M126.2 597.1h6.3M746.6 597.1h-6.3"/><path d="M126.2 594.5h6.3M746.6 594.5h-6.3"/><path d="M126.2 592.3h6.3M746.6 592.3h-6.3"/><path d="M126.2 590.3h6.3M746.6 590.3h-6.3"/><path d="M126.2 588.6h12.6M746.6 588.6h-12.6"/><path d="M126.2 577.0h6.3M746.6 577.0h-6.3"/><path d="M126.2 570.2h6.3M746.6 570.2h-6.3"/><path d="M126.2 565.4h6.3M746.6 565.4h-6.3"/><path d="M126.2 561.7h6.3M746.6 561.7h-6.3"/><path d="M126.2 558.7h6.3M746.6 558.7h-6.3"/><path d="M126.2 556.1h6.3M746.6 556.1h-6.3"/><path d="M126.2 553.9h6.3M746.6 553.9h-6.3"/><path d="M126.2 551.9h6.3M746.6 551.9h-6.3"/><path d="M126.2 550.2h12.6M746.6 550.2h-12.6"/><path d="M126.2 538.6h6.3M746.6 538.6h-6.3"/><path d="M126.2 531.9h6.3M746.6 531.9h-6.3"/><path d="M126.2 527.1h6.3M746.6 527.1h-6.3"/><path d="M126.2 523.3h6.3M746.6 523.3h-6.3"/><path d="M126.2 520.3h6.3M746.6 520.3h-6.3"/><path d="M126.2 517.7h6.3M746.6 517.7h-6.3"/><path d="M126.2 515.5h6.3M746.6 515.5h-6.3"/><path d="M126.2 513.5h6.3M746.6 513.5h-6.3"/><path d="M126.2 511.8h12.6M746.6 511.8h-12.6"/><path d="M126.2 500.2h6.3M746.6 500.2h-6.3"/><path d="M126.2 493.5h6.3M746.6 493.5h-6.3"/><path d="M126.2 488.7h6.3M746.6 488.7h-6.3"/><path d="M126.2 484.9h6.3M746.6 484.9h-6.3"/><path d="M126.2 481.9h6.3M746.6 481.9h-6.3"/><path d="M126.2 479.3h6.3M746.6 479.3h-6.3"/><path d="M126.2 477.1h6.3M746.6 477.1h-6.3"/><path d="M126.2 475.1h6.3M746.6 475.1h-6.3"/><path d="M126.2 473.4h12.6M746.6 473.4h-12.6"/><path d="M126.2 461.8h6.3M746.6 461.8h-6.3"/><path d="M126.2 455.1h6.3M746.6 455.1h-6.3"/><path d="M126.2 450.3h6.3M746.6 450.3h-6.3"/><path d="M126.2 446.6h6.3M746.6 446.6h-6.3"/><path d="M126.2 443.5h6.3M746.6 443.5h-6.3"/><path d="M126.2 440.9h6.3M746.6 440.9h-6.3"/><path d="M126.2 438.7h6.3M746.6 438.7h-6.3"/><path d="M126.2 436.8h6.3M746.6 436.8h-6.3"/><path d="M126.2 435.0h12.6M746.6 435.0h-12.6"/><path d="M126.2 423.4h6.3M746.6 423.4h-6.3"/><path d="M126.2 416.7h6.3M746.6 416.7h-6.3"/><path d="M126.2 411.9h6.3M746.6 411.9h-6.3"/><path d="M126.2 408.2h6.3M746.6 408.2h-6.3"/><path d="M126.2 405.1h6.3M746.6 405.1h-6.3"/><path d="M126.2 402.6h6.3M746.6 402.6h-6.3"/><path d="M126.2 400.3h6.3M746.6 400.3h-6.3"/><path d="M126.2 398.4h6.3M746.6 398.4h-6.3"/><path d="M126.2 396.6h12.6M746.6 396.6h-12.6"/><path d="M126.2 385.1h6.3M746.6 385.1h-6.3"/><path d="M126.2 378.3h6.3M746.6 378.3h-6.3"/><path d="M126.2 373.5h6.3M746.6 373.5h-6.3"/><path d="M126.2 369.8h6.3M746.6 369.8h-6.3"/><path d="M126.2 366.7h6.3M746.6 366.7h-6.3"/><path d="M126.2 364.2h6.3M746.6 364.2h-6.3"/><path d="M126.2 361.9h6.3M746.6 361.9h-6.3"/><path d="M126.2 360.0h6.3M746.6 360.0h-6.3"/><path d="M126.2 358.2h12.6M746.6 358.2h-12.6"/><path d="M126.2 346.7h6.3M746.6 346.7h-6.3"/><path d="M126.2 339.9h6.3M746.6 339.9h-6.3"/><path d="M126.2 335.1h6.3M746.6 335.1h-6.3"/><path d="M126.2 331.4h6.3M746.6 331.4h-6.3"/><path d="M126.2 328.3h6.3M746.6 328.3h-6.3"/><path d="M126.2 325.8h6.3M746.6 325.8h-6.3"/><path d="M126.2 323.6h6.3M746.6 323.6h-6.3"/><path d="M126.2 321.6h6.3M746.6 321.6h-6.3"/><path d="M126.2 319.8h12.6M746.6 319.8h-12.6"/><path d="M126.2 308.3h6.3M746.6 308.3h-6.3"/><path d="M126.2 301.5h6.3M746.6 301.5h-6.3"/><path d="M126.2 296.7h6.3M746.6 296.7h-6.3"/><path d="M126.2 293.0h6.3M746.6 293.0h-6.3"/><path d="M126.2 290.0h6.3M746.6 290.0h-6.3"/><path d="M126.2 287.4h6.3M746.6 287.4h-6.3"/><path d="M126.2 285.2h6.3M746.6 285.2h-6.3"/><path d="M126.2 283.2h6.3M746.6 283.2h-6.3"/><path d="M126.2 281.4h12.6M746.6 281.4h-12.6"/><path d="M126.2 269.9h6.3M746.6 269.9h-6.3"/><path d="M126.2 263.1h6.3M746.6 263.1h-6.3"/><path d="M126.2 258.3h6.3M746.6 258.3h-6.3"/><path d="M126.2 254.6h6.3M746.6 254.6h-6.3"/><path d="M126.2 251.6h6.3M746.6 251.6h-6.3"/><path d="M126.2 249.0h6.3M746.6 249.0h-6.3"/><path d="M126.2 246.8h6.3M746.6 246.8h-6.3"/><path d="M126.2 244.8h6.3M746.6 244.8h-6.3"/><path d="M126.2 243.0h12.6M746.6 243.0h-12.6"/><path d="M126.2 231.5h6.3M746.6 231.5h-6.3"/><path d="M126.2 224.7h6.3M746.6 224.7h-6.3"/><path d="M126.2 219.9h6.3M746.6 219.9h-6.3"/><path d="M126.2 216.2h6.3M746.6 216.2h-6.3"/><path d="M126.2 213.2h6.3M746.6 213.2h-6.3"/><path d="M126.2 210.6h6.3M746.6 210.6h-6.3"/><path d="M126.2 208.4h6.3M746.6 208.4h-6.3"/><path d="M126.2 206.4h6.3M746.6 206.4h-6.3"/><path d="M126.2 204.7h12.6M746.6 204.7h-12.6"/><path d="M126.2 193.1h6.3M746.6 193.1h-6.3"/><path d="M126.2 186.3h6.3M746.6 186.3h-6.3"/><path d="M126.2 181.5h6.3M746.6 181.5h-6.3"/><path d="M126.2 177.8h6.3M746.6 177.8h-6.3"/><path d="M126.2 174.8h6.3M746.6 174.8h-6.3"/><path d="M126.2 172.2h6.3M746.6 172.2h-6.3"/><path d="M126.2 170.0h6.3M746.6 170.0h-6.3"/><path d="M126.2 168.0h6.3M746.6 168.0h-6.3"/><path d="M126.2 166.3h12.6M746.6 166.3h-12.6"/><path d="M126.2 154.7h6.3M746.6 154.7h-6.3"/><path d="M126.2 148.0h6.3M746.6 148.0h-6.3"/><path d="M126.2 143.2h6.3M746.6 143.2h-6.3"/><path d="M126.2 139.4h6.3M746.6 139.4h-6.3"/><path d="M126.2 136.4h6.3M746.6 136.4h-6.3"/><path d="M126.2 133.8h6.3M746.6 133.8h-6.3"/><path d="M126.2 131.6h6.3M746.6 131.6h-6.3"/><path d="M126.2 129.6h6.3M746.6 129.6h-6.3"/><path d="M126.2 127.9h12.6M746.6 127.9h-12.6"/><path d="M126.2 116.3h6.3M746.6 116.3h-6.3"/><path d="M126.2 109.6h6.3M746.6 109.6h-6.3"/><path d="M126.2 104.8h6.3M746.6 104.8h-6.3"/><path d="M126.2 101.0h6.3M746.6 101.0h-6.3"/><path d="M126.2 98.0h6.3M746.6 98.0h-6.3"/><path d="M126.2 95.4h6.3M746.6 95.4h-6.3"/><path d="M126.2 93.2h6.3M746.6 93.2h-6.3"/><path d="M126.2 91.2h6.3M746.6 91.2h-6.3"/><path d="M126.2 89.5h12.6M746.6 89.5h-12.6"/><path d="M126.2 77.9h6.3M746.6 77.9h-6.3"/><path d="M126.2 71.2h6.3M746.6 71.2h-6.3"/><path d="M126.2 66.4h6.3M746.6 66.4h-6.3"/><path d="M126.2 62.7h6.3M746.6 62.7h-6.3"/><path d="M126.2 59.6h6.3M746.6 59.6h-6.3"/><path d="M126.2 57.0h6.3M746.6 57.0h-6.3"/><path d="M126.2 54.8h6.3M746.6 54.8h-6.3"/><path d="M126.2 52.9h6.3M746.6 52.9h-6.3"/><path d="M126.2 51.1h12.6M746.6 51.1h-12.6"/></g>
<text font-family="Liberation Serif, serif" font-size="21.10" fill="#000" stroke="#000" stroke-width="0.30" stroke-linejoin="round" transform="translate(256.66,639.80) scale(0.8010,1)">1</text>
<text font-family="Liberation Serif, serif" font-size="21.10" fill="#000" stroke="#000" stroke-width="0.30" stroke-linejoin="round" transform="translate(699.79,639.80) scale(1.1212,1)">10</text>
<text font-family="Liberation Serif, serif" font-size="12.60" fill="#000" stroke="#000" stroke-width="0.40" stroke-linejoin="round" letter-spacing="3.268" transform="translate(99.73,589.56) scale(1.0000,1)">11</text>
<path d="M92.6 586.1H98.5" stroke="#000" stroke-width="1.5"/>
<text font-family="Liberation Serif, serif" font-size="21.10" fill="#000" stroke="#000" stroke-width="0.30" stroke-linejoin="round" transform="translate(68.33,596.26) scale(1.0995,1)">10</text>
<text font-family="Liberation Serif, serif" font-size="12.60" fill="#000" stroke="#000" stroke-width="0.40" stroke-linejoin="round" letter-spacing="2.575" transform="translate(99.73,551.17) scale(1.0000,1)">10</text>
<path d="M92.6 547.7H98.5" stroke="#000" stroke-width="1.5"/>
<text font-family="Liberation Serif, serif" font-size="21.10" fill="#000" stroke="#000" stroke-width="0.30" stroke-linejoin="round" transform="translate(68.33,557.87) scale(1.0995,1)">10</text>
<text font-family="Liberation Serif, serif" font-size="12.60" fill="#000" stroke="#000" stroke-width="0.40" stroke-linejoin="round" transform="translate(107.55,512.78) scale(1.1812,1)">9</text>
<path d="M99.8 509.3H105.7" stroke="#000" stroke-width="1.5"/>
<text font-family="Liberation Serif, serif" font-size="21.10" fill="#000" stroke="#000" stroke-width="0.30" stroke-linejoin="round" transform="translate(75.53,519.48) scale(1.0995,1)">10</text>
<text font-family="Liberation Serif, serif" font-size="12.60" fill="#000" stroke="#000" stroke-width="0.40" stroke-linejoin="round" transform="translate(107.39,474.39) scale(1.2094,1)">8</text>
<path d="M99.8 470.9H105.7" stroke="#000" stroke-width="1.5"/>
<text font-family="Liberation Serif, serif" font-size="21.10" fill="#000" stroke="#000" stroke-width="0.30" stroke-linejoin="round" transform="translate(75.53,481.09) scale(1.0995,1)">10</text>
<text font-family="Liberation Serif, serif" font-size="12.60" fill="#000" stroke="#000" stroke-width="0.40" stroke-linejoin="round" transform="translate(106.97,436.00) scale(1.2542,1)">7</text>
<path d="M99.8 432.5H105.7" stroke="#000" stroke-width="1.5"/>
<text font-family="Liberation Serif, serif" font-size="21.10" fill="#000" stroke="#000" stroke-width="0.30" stroke-linejoin="round" transform="translate(75.53,442.70) scale(1.0995,1)">10</text>
<text font-family="Liberation Serif, serif" font-size="12.60" fill="#000" stroke="#000" stroke-width="0.40" stroke-linejoin="round" transform="translate(107.40,397.61) scale(1.1812,1)">6</text>
<path d="M99.8 394.1H105.7" stroke="#000" stroke-width="1.5"/>
<text font-family="Liberation Serif, serif" font-size="21.10" fill="#000" stroke="#000" stroke-width="0.30" stroke-linejoin="round" transform="translate(75.53,404.31) scale(1.0995,1)">10</text>
<text font-family="Liberation Serif, serif" font-size="12.60" fill="#000" stroke="#000" stroke-width="0.40" stroke-linejoin="round" transform="translate(107.04,359.22) scale(1.2698,1)">5</text>
<path d="M99.8 355.7H105.7" stroke="#000" stroke-width="1.5"/>
<text font-family="Liberation Serif, serif" font-size="21.10" fill="#000" stroke="#000" stroke-width="0.30" stroke-linejoin="round" transform="translate(75.53,365.92) scale(1.0995,1)">10</text>
<text font-family="Liberation Serif, serif" font-size="12.60" fill="#000" stroke="#000" stroke-width="0.40" stroke-linejoin="round" transform="translate(107.72,320.83) scale(1.0923,1)">4</text>
<path d="M99.8 317.3H105.7" stroke="#000" stroke-width="1.5"/>
<text font-family="Liberation Serif, serif" font-size="21.10" fill="#000" stroke="#000" stroke-width="0.30" stroke-linejoin="round" transform="translate(75.53,327.53) scale(1.0995,1)">10</text>
<text font-family="Liberation Serif, serif" font-size="12.60" fill="#000" stroke="#000" stroke-width="0.40" stroke-linejoin="round" transform="translate(107.31,282.44) scale(1.2239,1)">3</text>
<path d="M99.8 278.9H105.7" stroke="#000" stroke-width="1.5"/>
<text font-family="Liberation Serif, serif" font-size="21.10" fill="#000" stroke="#000" stroke-width="0.30" stroke-linejoin="round" transform="translate(75.53,289.14) scale(1.0995,1)">10</text>
<text font-family="Liberation Serif, serif" font-size="12.60" fill="#000" stroke="#000" stroke-width="0.40" stroke-linejoin="round" transform="translate(107.28,244.05) scale(1.2698,1)">2</text>
<path d="M99.8 240.5H105.7" stroke="#000" stroke-width="1.5"/>
<text font-family="Liberation Serif, serif" font-size="21.10" fill="#000" stroke="#000" stroke-width="0.30" stroke-linejoin="round" transform="translate(75.53,250.75) scale(1.0995,1)">10</text>
<text font-family="Liberation Serif, serif" font-size="12.60" fill="#000" stroke="#000" stroke-width="0.40" stroke-linejoin="round" transform="translate(108.20,205.66) scale(1.1178,1)">1</text>
<path d="M99.8 202.2H105.7" stroke="#000" stroke-width="1.5"/>
<text font-family="Liberation Serif, serif" font-size="21.10" fill="#000" stroke="#000" stroke-width="0.30" stroke-linejoin="round" transform="translate(75.53,212.36) scale(1.0995,1)">10</text>
<text font-family="Liberation Serif, serif" font-size="21.10" fill="#000" stroke="#000" stroke-width="0.30" stroke-linejoin="round" transform="translate(103.83,173.97) scale(0.9879,1)">1</text>
<text font-family="Liberation Serif, serif" font-size="21.10" fill="#000" stroke="#000" stroke-width="0.30" stroke-linejoin="round" transform="translate(83.23,135.58) scale(1.0995,1)">10</text>
<text font-family="Liberation Serif, serif" font-size="12.60" fill="#000" stroke="#000" stroke-width="0.40" stroke-linejoin="round" transform="translate(108.20,128.88) scale(1.1178,1)">1</text>
<text font-family="Liberation Serif, serif" font-size="21.10" fill="#000" stroke="#000" stroke-width="0.30" stroke-linejoin="round" transform="translate(83.23,97.19) scale(1.0995,1)">10</text>
<text font-family="Liberation Serif, serif" font-size="12.60" fill="#000" stroke="#000" stroke-width="0.40" stroke-linejoin="round" transform="translate(107.28,90.49) scale(1.2698,1)">2</text>
<text font-family="Liberation Serif, serif" font-size="21.10" fill="#000" stroke="#000" stroke-width="0.30" stroke-linejoin="round" transform="translate(83.23,58.80) scale(1.0995,1)">10</text>
<text font-family="Liberation Serif, serif" font-size="12.60" fill="#000" stroke="#000" stroke-width="0.40" stroke-linejoin="round" transform="translate(107.31,52.10) scale(1.2239,1)">3</text>
<text font-family="Liberation Serif, serif" font-size="23.80" fill="#000" letter-spacing="0.922" transform="translate(364.46,667.00) scale(1.1700,1)">Energy,</text>
<text font-family="Liberation Serif, serif" font-size="23.80" fill="#000" stroke="#000" stroke-width="0.15" stroke-linejoin="round" transform="translate(466.49,667.00) scale(1.0613,1)">keV</text>
<g transform="translate(55.3,446.4) rotate(-90)">
<text font-family="Liberation Serif, serif" font-size="23.80" fill="#000" stroke="#000" stroke-width="0.15" stroke-linejoin="round" transform="translate(-0.48,0.00) scale(1.0151,1)">keV</text>
<text font-family="Liberation Serif, serif" font-size="13.40" fill="#000" stroke="#000" stroke-width="0.40" stroke-linejoin="round" transform="translate(40.66,-8.10) scale(1.3993,1)">2</text>
<text font-family="Liberation Serif, serif" font-size="23.80" fill="#000" stroke="#000" stroke-width="0.15" stroke-linejoin="round" transform="translate(62.48,0.00) scale(1.1743,1)">cm</text>
<path d="M98.9 -11.3H105.8" stroke="#000" stroke-width="1.6"/>
<text font-family="Liberation Serif, serif" font-size="14.00" fill="#000" stroke="#000" stroke-width="0.40" stroke-linejoin="round" transform="translate(108.33,-7.90) scale(1.3750,1)">2</text>
<text font-family="Liberation Serif, serif" font-size="23.80" fill="#000" stroke="#000" stroke-width="0.15" stroke-linejoin="round" transform="translate(129.71,0.00) scale(1.1471,1)">s</text>
<path d="M143.2 -11.3H150.1" stroke="#000" stroke-width="1.6"/>
<text font-family="Liberation Serif, serif" font-size="14.00" fill="#000" stroke="#000" stroke-width="0.40" stroke-linejoin="round" transform="translate(151.56,-7.90) scale(1.1268,1)">1</text>
<text font-family="Liberation Serif, serif" font-size="23.80" fill="#000" stroke="#000" stroke-width="0.15" stroke-linejoin="round" transform="translate(172.83,0.00) scale(0.9945,1)">keV</text>
<path d="M215.4 -11.3H222.3" stroke="#000" stroke-width="1.6"/>
<text font-family="Liberation Serif, serif" font-size="14.00" fill="#000" stroke="#000" stroke-width="0.40" stroke-linejoin="round" transform="translate(224.66,-7.90) scale(1.1268,1)">1</text>
</g>
<g transform="translate(399.2,111.5) rotate(-10.00)"><text font-family="Liberation Serif, serif" font-size="19.60" fill="#ff00ff" stroke="#ff00ff" stroke-width="0.65" stroke-linejoin="round" letter-spacing="0.653" transform="translate(-1.27,0.00) scale(1.0000,1)">Swift/XRT</text><text font-family="Liberation Serif, serif" font-size="19.60" fill="#ff00ff" stroke="#ff00ff" stroke-width="0.65" stroke-linejoin="round" letter-spacing="0.196" transform="translate(98.82,0.00) scale(1.1200,1)">00031115002</text><text font-family="Liberation Serif, serif" font-size="19.60" fill="#ff00ff" stroke="#ff00ff" stroke-width="0.65" stroke-linejoin="round" transform="translate(228.80,0.00) scale(1.0098,1)">x</text><text font-family="Liberation Serif, serif" font-size="19.60" fill="#ff00ff" stroke="#ff00ff" stroke-width="0.65" stroke-linejoin="round" letter-spacing="1.199" transform="translate(246.58,0.00) scale(1.1200,1)">50</text></g>
<g transform="translate(424.2,185.9) rotate(-10.00)"><text font-family="Liberation Serif, serif" font-size="19.60" fill="#00ffff" stroke="#00ffff" stroke-width="0.65" stroke-linejoin="round" letter-spacing="0.653" transform="translate(-1.27,0.00) scale(1.0000,1)">Swift/XRT</text><text font-family="Liberation Serif, serif" font-size="19.60" fill="#00ffff" stroke="#00ffff" stroke-width="0.65" stroke-linejoin="round" letter-spacing="0.194" transform="translate(98.42,0.00) scale(1.1200,1)">00031115011</text></g>
<g transform="translate(448.8,292.7) rotate(-10.00)"><text font-family="Liberation Serif, serif" font-size="19.60" fill="#ff0000" stroke="#ff0000" stroke-width="0.65" stroke-linejoin="round" letter-spacing="0.653" transform="translate(-1.27,0.00) scale(1.0000,1)">Swift/XRT</text><text font-family="Liberation Serif, serif" font-size="19.60" fill="#ff0000" stroke="#ff0000" stroke-width="0.65" stroke-linejoin="round" letter-spacing="0.051" transform="translate(99.22,0.00) scale(1.1200,1)">00031115015</text><path d="M221.9 -6.1H231.5" stroke="#ff0000" stroke-width="1.9"/><text font-family="Liberation Serif, serif" font-size="19.60" fill="#ff0000" stroke="#ff0000" stroke-width="0.65" stroke-linejoin="round" letter-spacing="-0.203" transform="translate(234.03,0.00) scale(1.1200,1)">16</text></g>
<g transform="translate(449.2,415.0) rotate(-10.00)"><text font-family="Liberation Serif, serif" font-size="19.60" fill="#0000ff" stroke="#0000ff" stroke-width="0.65" stroke-linejoin="round" letter-spacing="0.833" transform="translate(-0.86,0.00) scale(1.1000,1)">Chandra</text></g>
</svg>
</body></html>
